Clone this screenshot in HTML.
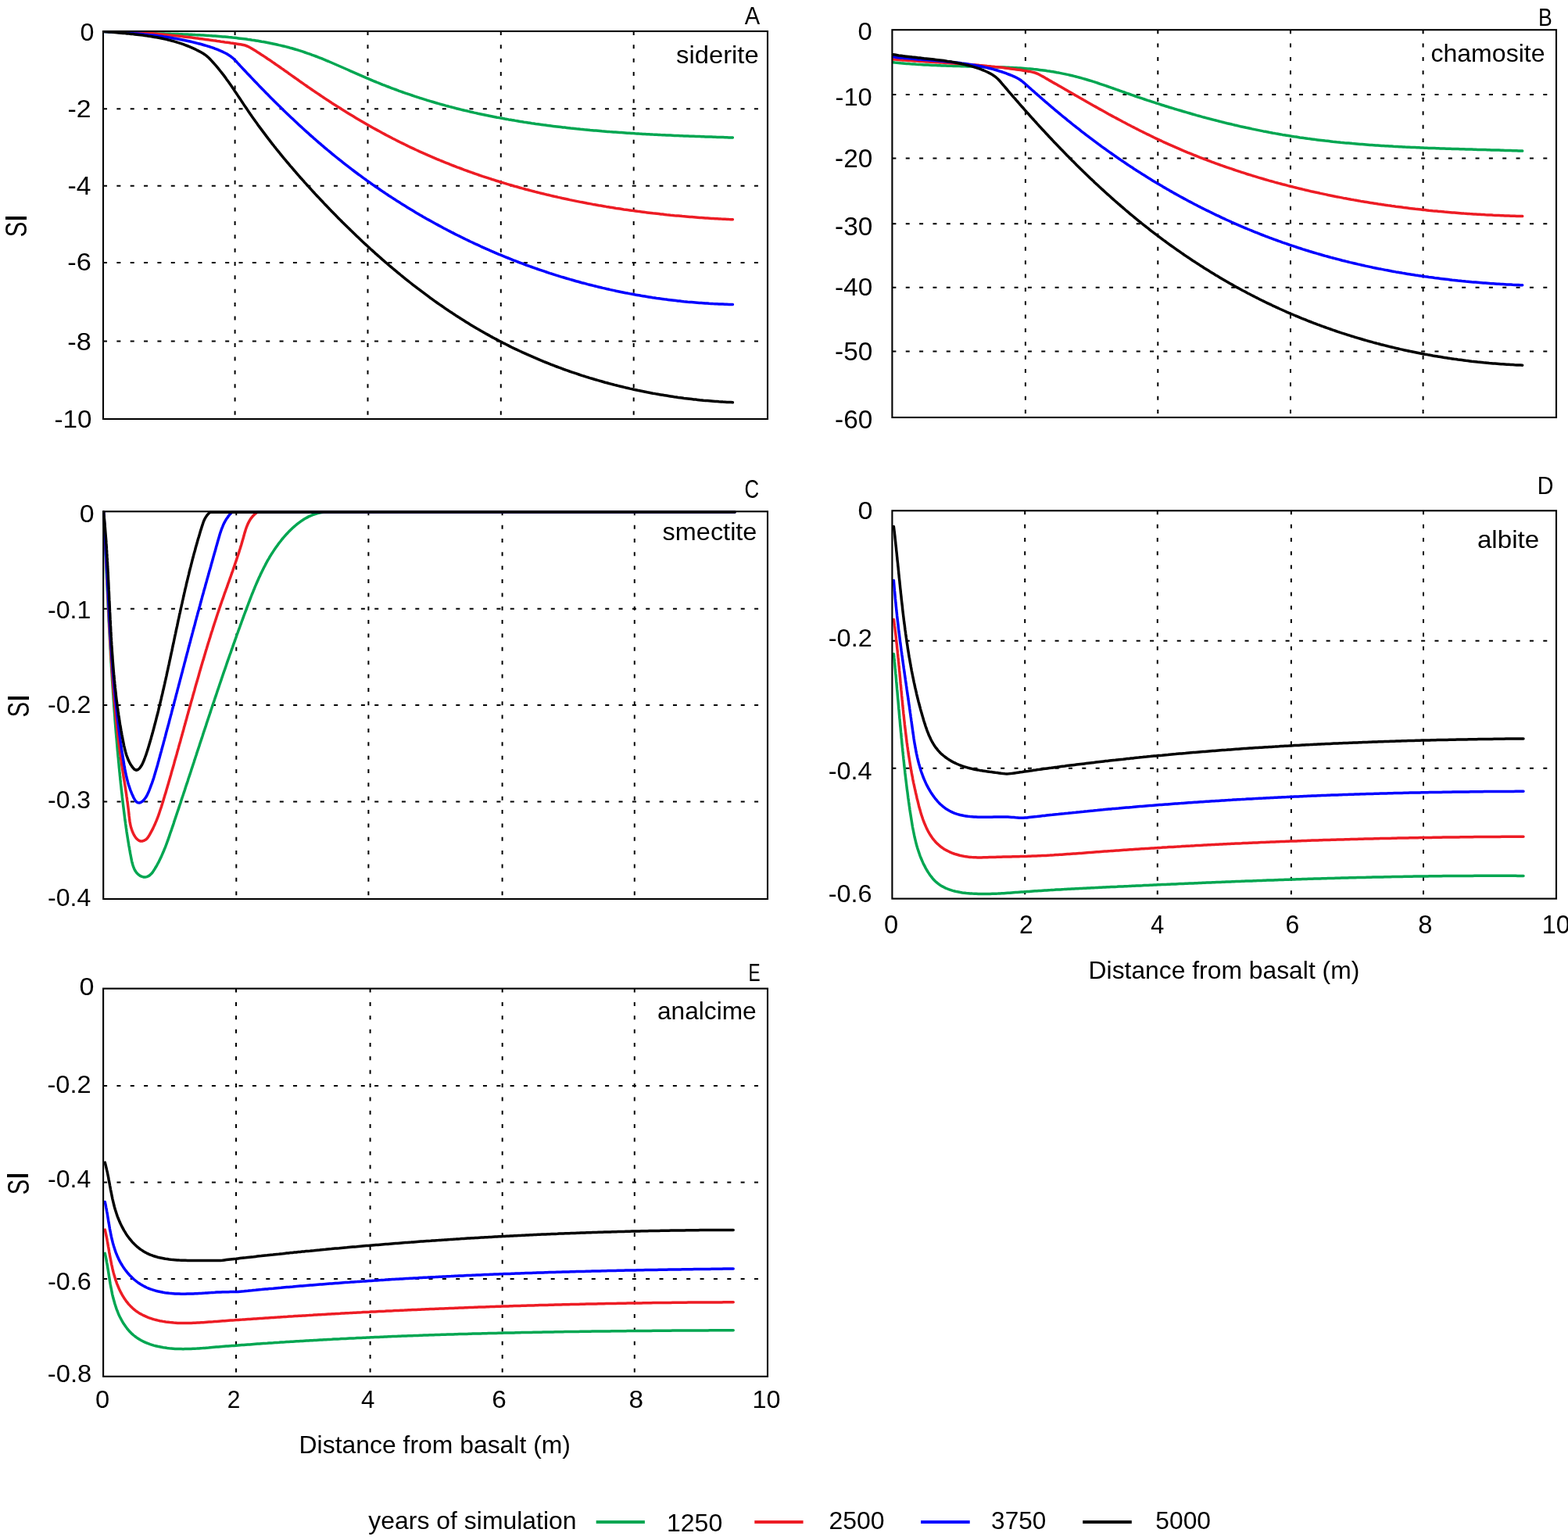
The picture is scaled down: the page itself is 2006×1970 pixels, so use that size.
<!DOCTYPE html>
<html lang="en">
<head>
<meta charset="utf-8">
<title>Saturation index profiles</title>
<style>
html,body{margin:0;padding:0;background:#fff;}
body{width:2006px;height:1970px;overflow:hidden;}
svg{display:block;}
text{font-family:"Liberation Sans",Arial,Helvetica,sans-serif;font-size:32px;fill:#000;}
.g{stroke:#000;stroke-width:2;stroke-dasharray:5 12.352;fill:none;}
.b{stroke:#000;stroke-width:2.1;fill:none;}
.c{stroke-width:3.5;fill:none;stroke-linecap:round;stroke-linejoin:round;}
.l{stroke-width:3.9;fill:none;}
</style>
</head>
<body>
<svg xmlns="http://www.w3.org/2000/svg" width="2006" height="1970" viewBox="0 0 2006 1970">
<rect x="0" y="0" width="2006" height="1970" fill="#fff"/>
<defs>
<clipPath id="clipA"><rect x="130.95" y="38.95" width="852.1" height="498.1"/></clipPath>
<clipPath id="clipB"><rect x="1140.35" y="37.15" width="851.7" height="497.9"/></clipPath>
<clipPath id="clipC"><rect x="131.15" y="653.25" width="851.9" height="497.8"/></clipPath>
<clipPath id="clipD"><rect x="1140.35" y="652.25" width="851.7" height="498.4"/></clipPath>
<clipPath id="clipE"><rect x="131.05" y="1263.55" width="852" height="498.3"/></clipPath>
</defs>
<g id="panel-A">
<line class="g" x1="300.6" y1="40" x2="300.6" y2="536"/>
<line class="g" x1="470.5" y1="40" x2="470.5" y2="536"/>
<line class="g" x1="640.8" y1="40" x2="640.8" y2="536"/>
<line class="g" x1="810.7" y1="40" x2="810.7" y2="536"/>
<line class="g" x1="132" y1="139.2" x2="982" y2="139.2"/>
<line class="g" x1="132" y1="237.7" x2="982" y2="237.7"/>
<line class="g" x1="132" y1="336" x2="982" y2="336"/>
<line class="g" x1="132" y1="436.5" x2="982" y2="436.5"/>
<g clip-path="url(#clipA)">
<polyline class="c" stroke="#00a651" points="132.3,40.3 134.8,40.4 137.2,40.6 139.7,40.7 142.2,40.8 144.6,41.0 147.1,41.1 149.6,41.2 152.1,41.3 154.5,41.4 157.0,41.5 159.5,41.6 162.0,41.7 164.5,41.8 167.0,41.9 169.5,42.0 172.0,42.0 174.5,42.1 177.0,42.2 179.5,42.3 182.0,42.3 184.5,42.4 187.0,42.5 189.5,42.5 192.0,42.6 194.5,42.7 197.1,42.8 199.6,42.8 202.1,42.9 204.6,43.0 207.1,43.0 209.6,43.1 212.1,43.2 214.7,43.2 217.2,43.3 219.7,43.4 222.2,43.5 224.7,43.6 227.3,43.6 229.8,43.7 232.3,43.8 234.8,43.9 237.3,44.0 239.9,44.1 242.4,44.2 244.9,44.3 247.4,44.4 249.9,44.6 252.5,44.7 255.0,44.8 257.5,45.0 260.0,45.1 262.5,45.2 265.0,45.4 267.5,45.6 270.1,45.7 272.6,45.9 275.1,46.1 277.6,46.3 280.1,46.5 282.6,46.7 285.1,46.9 287.6,47.1 290.1,47.3 292.6,47.6 295.1,47.8 297.6,48.1 300.1,48.3 302.6,48.6 305.0,48.9 307.5,49.2 310.0,49.5 312.5,49.8 315.0,50.1 317.4,50.5 319.9,50.8 322.4,51.2 324.9,51.5 327.3,51.9 329.8,52.3 332.2,52.7 334.7,53.2 337.1,53.6 339.6,54.0 342.0,54.5 344.5,55.0 346.9,55.5 349.3,56.0 351.8,56.5 354.2,57.0 356.6,57.6 359.0,58.1 361.4,58.7 363.8,59.3 366.3,59.9 368.7,60.5 371.0,61.2 373.4,61.8 375.8,62.5 378.2,63.2 380.6,63.9 383.0,64.7 385.3,65.4 387.7,66.2 390.0,67.0 392.4,67.8 394.7,68.6 397.1,69.4 399.4,70.3 401.8,71.1 404.1,72.0 406.4,72.9 408.7,73.8 411.1,74.7 413.4,75.7 415.7,76.6 418.0,77.6 420.3,78.5 422.6,79.5 424.9,80.5 427.2,81.5 429.5,82.5 431.8,83.5 434.1,84.5 436.4,85.5 438.7,86.5 441.0,87.5 443.3,88.5 445.6,89.5 447.9,90.6 450.2,91.6 452.5,92.6 454.8,93.6 457.1,94.6 459.4,95.7 461.7,96.7 464.0,97.7 466.3,98.7 468.6,99.7 471.0,100.6 473.3,101.6 475.6,102.6 477.9,103.6 480.2,104.5 482.6,105.5 484.9,106.4 487.2,107.3 489.5,108.3 491.9,109.2 494.2,110.1 496.6,111.0 498.9,111.9 501.2,112.8 503.6,113.7 505.9,114.5 508.3,115.4 510.6,116.3 513.0,117.1 515.4,118.0 517.7,118.8 520.1,119.6 522.5,120.4 524.8,121.2 527.2,122.0 529.6,122.8 531.9,123.6 534.3,124.4 536.7,125.2 539.1,125.9 541.5,126.7 543.8,127.4 546.2,128.2 548.6,128.9 551.0,129.6 553.4,130.3 555.8,131.0 558.2,131.7 560.6,132.4 563.0,133.1 565.4,133.8 567.8,134.4 570.2,135.1 572.6,135.7 575.1,136.4 577.5,137.0 579.9,137.6 582.3,138.3 584.7,138.9 587.1,139.5 589.6,140.1 592.0,140.7 594.4,141.3 596.9,141.8 599.3,142.4 601.7,143.0 604.1,143.5 606.6,144.1 609.0,144.6 611.5,145.2 613.9,145.7 616.3,146.2 618.8,146.7 621.2,147.2 623.7,147.7 626.1,148.2 628.6,148.7 631.0,149.2 633.5,149.7 635.9,150.2 638.4,150.6 640.8,151.1 643.3,151.5 645.8,152.0 648.2,152.4 650.7,152.9 653.2,153.3 655.6,153.7 658.1,154.1 660.6,154.6 663.0,155.0 665.5,155.4 668.0,155.8 670.4,156.2 672.9,156.5 675.4,156.9 677.9,157.3 680.3,157.7 682.8,158.0 685.3,158.4 687.8,158.7 690.2,159.1 692.7,159.4 695.2,159.8 697.7,160.1 700.2,160.4 702.7,160.7 705.2,161.1 707.6,161.4 710.1,161.7 712.6,162.0 715.1,162.3 717.6,162.6 720.1,162.9 722.6,163.1 725.1,163.4 727.6,163.7 730.1,164.0 732.5,164.2 735.0,164.5 737.5,164.8 740.0,165.0 742.5,165.3 745.0,165.5 747.5,165.8 750.0,166.0 752.5,166.2 755.0,166.5 757.5,166.7 760.0,166.9 762.5,167.1 765.0,167.3 767.5,167.5 770.0,167.8 772.5,168.0 775.0,168.2 777.5,168.4 780.0,168.6 782.5,168.7 785.0,168.9 787.5,169.1 790.1,169.3 792.6,169.5 795.1,169.6 797.6,169.8 800.1,170.0 802.6,170.2 805.1,170.3 807.6,170.5 810.1,170.6 812.6,170.8 815.1,170.9 817.6,171.1 820.1,171.2 822.6,171.4 825.1,171.5 827.6,171.7 830.1,171.8 832.6,171.9 835.1,172.1 837.6,172.2 840.1,172.3 842.6,172.4 845.1,172.6 847.6,172.7 850.1,172.8 852.6,172.9 855.1,173.0 857.7,173.1 860.2,173.2 862.7,173.4 865.2,173.5 867.7,173.6 870.2,173.7 872.7,173.8 875.1,173.9 877.6,174.0 880.1,174.1 882.6,174.2 885.1,174.3 887.6,174.3 890.1,174.4 892.6,174.5 895.1,174.6 897.6,174.7 900.1,174.8 902.6,174.9 905.1,175.0 907.6,175.1 910.1,175.1 912.6,175.2 915.0,175.3 917.5,175.4 920.0,175.5 922.5,175.5 925.0,175.6 927.5,175.7 930.0,175.8 932.4,175.9 934.9,175.9 937.4,176.0"/>
<polyline class="c" stroke="#ed1c24" points="132.3,40.3 134.8,40.3 137.3,40.3 139.9,40.3 142.4,40.3 144.9,40.4 147.4,40.4 149.9,40.4 152.5,40.5 155.0,40.6 157.5,40.7 160.0,40.7 162.5,40.8 165.0,40.9 167.5,41.1 170.1,41.2 172.6,41.3 175.1,41.4 177.6,41.6 180.1,41.8 182.6,41.9 185.1,42.1 187.6,42.3 190.2,42.5 192.7,42.6 195.2,42.8 197.7,43.1 200.2,43.3 202.7,43.5 205.2,43.7 207.7,43.9 210.2,44.2 212.7,44.4 215.2,44.7 217.7,44.9 220.2,45.2 222.7,45.5 225.2,45.8 227.7,46.0 230.2,46.3 232.7,46.6 235.2,46.9 237.7,47.2 240.2,47.5 242.7,47.8 245.2,48.1 247.7,48.4 250.2,48.8 252.7,49.1 255.2,49.4 257.7,49.7 260.2,50.1 262.7,50.4 265.2,50.7 267.7,51.1 270.2,51.4 272.7,51.8 275.2,52.1 277.7,52.5 280.2,52.8 282.7,53.2 285.2,53.5 287.7,53.9 290.2,54.2 292.6,54.6 295.1,55.0 297.6,55.3 300.1,55.7 302.6,56.1 305.1,56.4 307.6,56.8 310.0,57.2 312.5,57.7 314.8,58.5 317.1,59.4 319.3,60.5 321.5,61.7 323.6,63.0 325.7,64.3 327.8,65.6 329.9,67.0 332.0,68.3 334.1,69.7 336.2,71.0 338.3,72.4 340.4,73.8 342.4,75.2 344.5,76.5 346.6,77.9 348.6,79.4 350.7,80.8 352.7,82.2 354.8,83.6 356.8,85.0 358.9,86.5 360.9,87.9 363.0,89.3 365.0,90.8 367.1,92.2 369.1,93.7 371.1,95.1 373.2,96.6 375.2,98.0 377.3,99.5 379.3,100.9 381.3,102.3 383.4,103.8 385.4,105.2 387.5,106.7 389.5,108.1 391.6,109.5 393.6,111.0 395.7,112.4 397.7,113.8 399.8,115.2 401.9,116.6 403.9,118.0 406.0,119.4 408.1,120.8 410.2,122.2 412.3,123.6 414.3,125.0 416.4,126.4 418.5,127.8 420.6,129.1 422.7,130.5 424.8,131.9 426.9,133.2 429.0,134.6 431.1,135.9 433.3,137.3 435.4,138.6 437.5,139.9 439.6,141.3 441.7,142.6 443.9,143.9 446.0,145.2 448.1,146.5 450.3,147.8 452.4,149.1 454.6,150.4 456.7,151.7 458.9,153.0 461.0,154.2 463.2,155.5 465.4,156.8 467.5,158.0 469.7,159.3 471.9,160.5 474.0,161.7 476.2,163.0 478.4,164.2 480.6,165.4 482.8,166.6 485.0,167.8 487.2,169.0 489.4,170.2 491.6,171.4 493.8,172.6 496.0,173.7 498.2,174.9 500.4,176.0 502.6,177.2 504.8,178.3 507.1,179.5 509.3,180.6 511.5,181.7 513.8,182.8 516.0,183.9 518.3,185.0 520.5,186.1 522.7,187.2 525.0,188.3 527.3,189.4 529.5,190.4 531.8,191.5 534.1,192.5 536.3,193.6 538.6,194.6 540.9,195.6 543.2,196.6 545.4,197.6 547.7,198.6 550.0,199.6 552.3,200.6 554.6,201.6 556.9,202.6 559.2,203.6 561.5,204.5 563.8,205.5 566.1,206.4 568.4,207.4 570.8,208.3 573.1,209.2 575.4,210.2 577.7,211.1 580.1,212.0 582.4,212.9 584.7,213.8 587.1,214.6 589.4,215.5 591.7,216.4 594.1,217.3 596.4,218.1 598.8,219.0 601.1,219.8 603.5,220.7 605.8,221.5 608.2,222.3 610.6,223.1 612.9,224.0 615.3,224.8 617.7,225.6 620.0,226.3 622.4,227.1 624.8,227.9 627.2,228.7 629.6,229.5 631.9,230.2 634.3,231.0 636.7,231.7 639.1,232.5 641.5,233.2 643.9,233.9 646.3,234.6 648.7,235.4 651.1,236.1 653.5,236.8 655.9,237.5 658.3,238.2 660.7,238.8 663.1,239.5 665.5,240.2 668.0,240.9 670.4,241.5 672.8,242.2 675.2,242.8 677.6,243.5 680.1,244.1 682.5,244.7 684.9,245.4 687.3,246.0 689.8,246.6 692.2,247.2 694.6,247.8 697.1,248.4 699.5,249.0 702.0,249.5 704.4,250.1 706.8,250.7 709.3,251.3 711.7,251.8 714.2,252.4 716.6,252.9 719.1,253.5 721.5,254.0 724.0,254.5 726.4,255.0 728.9,255.6 731.4,256.1 733.8,256.6 736.3,257.1 738.7,257.6 741.2,258.1 743.7,258.6 746.1,259.0 748.6,259.5 751.1,260.0 753.5,260.4 756.0,260.9 758.5,261.4 760.9,261.8 763.4,262.2 765.9,262.7 768.4,263.1 770.8,263.5 773.3,263.9 775.8,264.4 778.3,264.8 780.7,265.2 783.2,265.6 785.7,266.0 788.2,266.4 790.6,266.7 793.1,267.1 795.6,267.5 798.1,267.9 800.6,268.2 803.1,268.6 805.5,268.9 808.0,269.3 810.5,269.6 813.0,269.9 815.5,270.3 818.0,270.6 820.5,270.9 823.0,271.2 825.4,271.6 827.9,271.9 830.4,272.2 832.9,272.5 835.4,272.8 837.9,273.0 840.4,273.3 842.9,273.6 845.4,273.9 847.8,274.1 850.3,274.4 852.8,274.7 855.3,274.9 857.8,275.2 860.3,275.4 862.8,275.7 865.3,275.9 867.8,276.1 870.3,276.3 872.8,276.6 875.2,276.8 877.7,277.0 880.2,277.2 882.7,277.4 885.2,277.6 887.7,277.8 890.2,278.0 892.7,278.2 895.2,278.4 897.6,278.5 900.1,278.7 902.6,278.9 905.1,279.0 907.6,279.2 910.1,279.4 912.6,279.5 915.1,279.7 917.5,279.8 920.0,279.9 922.5,280.1 925.0,280.2 927.5,280.3 930.0,280.4 932.4,280.6 934.9,280.7 937.4,280.8"/>
<polyline class="c" stroke="#0000ff" points="132.3,40.3 134.8,40.4 137.3,40.6 139.7,40.7 142.2,40.8 144.7,41.0 147.2,41.1 149.7,41.3 152.2,41.4 154.7,41.6 157.2,41.7 159.7,41.9 162.2,42.1 164.7,42.3 167.2,42.5 169.7,42.7 172.2,42.9 174.7,43.1 177.2,43.3 179.7,43.5 182.2,43.7 184.7,44.0 187.2,44.2 189.7,44.5 192.2,44.8 194.7,45.0 197.2,45.3 199.7,45.6 202.2,46.0 204.7,46.3 207.2,46.6 209.7,47.0 212.1,47.3 214.6,47.7 217.1,48.1 219.6,48.5 222.1,48.9 224.5,49.3 227.0,49.8 229.5,50.2 231.9,50.7 234.4,51.2 236.9,51.7 239.3,52.2 241.8,52.7 244.2,53.3 246.6,53.9 249.1,54.5 251.5,55.1 253.9,55.7 256.3,56.3 258.8,57.0 261.2,57.7 263.6,58.4 265.9,59.1 268.3,59.8 270.7,60.6 273.1,61.4 275.4,62.3 277.7,63.1 280.0,64.1 282.3,65.1 284.6,66.1 286.8,67.2 289.0,68.3 291.2,69.6 293.3,70.9 295.4,72.3 297.3,73.8 299.2,75.5 300.9,77.3 302.7,79.1 304.3,80.9 306.0,82.7 307.7,84.6 309.4,86.4 311.1,88.2 312.8,90.0 314.5,91.8 316.2,93.7 318.0,95.5 319.7,97.3 321.4,99.1 323.1,100.9 324.8,102.7 326.5,104.5 328.3,106.3 330.0,108.1 331.7,109.9 333.5,111.7 335.2,113.5 337.0,115.3 338.7,117.1 340.5,118.9 342.2,120.6 344.0,122.4 345.7,124.2 347.5,126.0 349.3,127.7 351.0,129.5 352.8,131.3 354.6,133.0 356.4,134.8 358.2,136.5 360.0,138.3 361.7,140.0 363.5,141.8 365.3,143.5 367.1,145.2 369.0,147.0 370.8,148.7 372.6,150.4 374.4,152.1 376.2,153.8 378.0,155.5 379.9,157.3 381.7,159.0 383.5,160.7 385.4,162.3 387.2,164.0 389.1,165.7 390.9,167.4 392.8,169.1 394.7,170.7 396.5,172.4 398.4,174.1 400.3,175.7 402.1,177.4 404.0,179.0 405.9,180.7 407.8,182.3 409.7,183.9 411.6,185.6 413.5,187.2 415.4,188.8 417.3,190.4 419.2,192.0 421.2,193.6 423.1,195.2 425.0,196.8 426.9,198.4 428.9,200.0 430.8,201.5 432.8,203.1 434.7,204.7 436.7,206.2 438.7,207.8 440.6,209.3 442.6,210.9 444.6,212.4 446.5,213.9 448.5,215.4 450.5,217.0 452.5,218.5 454.5,220.0 456.5,221.5 458.5,223.0 460.5,224.4 462.5,225.9 464.5,227.4 466.6,228.9 468.6,230.3 470.6,231.8 472.7,233.2 474.7,234.7 476.7,236.1 478.8,237.5 480.8,239.0 482.9,240.4 485.0,241.8 487.0,243.2 489.1,244.6 491.2,246.0 493.2,247.4 495.3,248.8 497.4,250.2 499.5,251.5 501.6,252.9 503.7,254.3 505.8,255.6 507.9,257.0 510.0,258.3 512.1,259.6 514.2,261.0 516.3,262.3 518.5,263.6 520.6,264.9 522.7,266.2 524.8,267.5 527.0,268.8 529.1,270.1 531.3,271.4 533.4,272.7 535.6,273.9 537.7,275.2 539.9,276.4 542.0,277.7 544.2,278.9 546.4,280.2 548.6,281.4 550.7,282.6 552.9,283.8 555.1,285.0 557.3,286.2 559.5,287.4 561.7,288.6 563.9,289.8 566.1,291.0 568.3,292.2 570.5,293.3 572.7,294.5 574.9,295.6 577.1,296.8 579.4,297.9 581.6,299.1 583.8,300.2 586.0,301.3 588.3,302.4 590.5,303.5 592.8,304.6 595.0,305.7 597.2,306.8 599.5,307.9 601.7,309.0 604.0,310.0 606.3,311.1 608.5,312.2 610.8,313.2 613.1,314.2 615.3,315.3 617.6,316.3 619.9,317.3 622.2,318.3 624.5,319.3 626.7,320.4 629.0,321.3 631.3,322.3 633.6,323.3 635.9,324.3 638.2,325.3 640.5,326.2 642.8,327.2 645.1,328.1 647.5,329.1 649.8,330.0 652.1,330.9 654.4,331.8 656.7,332.8 659.1,333.7 661.4,334.6 663.7,335.5 666.0,336.3 668.4,337.2 670.7,338.1 673.1,339.0 675.4,339.8 677.8,340.7 680.1,341.5 682.5,342.3 684.8,343.2 687.2,344.0 689.5,344.8 691.9,345.6 694.3,346.4 696.6,347.2 699.0,348.0 701.4,348.8 703.7,349.6 706.1,350.3 708.5,351.1 710.9,351.9 713.3,352.6 715.6,353.3 718.0,354.1 720.4,354.8 722.8,355.5 725.2,356.2 727.6,356.9 730.0,357.6 732.4,358.3 734.8,359.0 737.2,359.7 739.6,360.3 742.0,361.0 744.4,361.7 746.9,362.3 749.3,362.9 751.7,363.6 754.1,364.2 756.5,364.8 758.9,365.4 761.4,366.0 763.8,366.6 766.2,367.2 768.7,367.8 771.1,368.4 773.5,368.9 776.0,369.5 778.4,370.0 780.8,370.6 783.3,371.1 785.7,371.6 788.2,372.2 790.6,372.7 793.1,373.2 795.5,373.7 798.0,374.2 800.4,374.7 802.9,375.1 805.3,375.6 807.8,376.1 810.3,376.5 812.7,377.0 815.2,377.4 817.6,377.8 820.1,378.3 822.6,378.7 825.0,379.1 827.5,379.5 830.0,379.9 832.5,380.3 834.9,380.7 837.4,381.0 839.9,381.4 842.4,381.7 844.9,382.1 847.3,382.4 849.8,382.8 852.3,383.1 854.8,383.4 857.3,383.7 859.8,384.0 862.2,384.3 864.7,384.6 867.2,384.9 869.7,385.1 872.2,385.4 874.7,385.7 877.2,385.9 879.7,386.2 882.2,386.4 884.7,386.6 887.2,386.8 889.7,387.0 892.2,387.2 894.7,387.4 897.2,387.6 899.7,387.8 902.2,388.0 904.7,388.1 907.2,388.3 909.7,388.4 912.3,388.6 914.8,388.7 917.3,388.8 919.8,388.9 922.3,389.0 924.8,389.1 927.3,389.2 929.8,389.3 932.4,389.4 934.9,389.4 937.4,389.5"/>
<polyline class="c" stroke="#000000" points="132.3,40.3 134.8,40.5 137.3,40.7 139.8,40.9 142.3,41.1 144.8,41.3 147.3,41.5 149.8,41.7 152.3,42.0 154.8,42.2 157.4,42.4 159.9,42.6 162.4,42.9 165.0,43.1 167.5,43.4 170.0,43.6 172.6,43.9 175.1,44.2 177.6,44.5 180.2,44.8 182.7,45.1 185.2,45.4 187.7,45.8 190.3,46.2 192.8,46.6 195.3,47.0 197.8,47.4 200.3,47.8 202.8,48.3 205.3,48.8 207.8,49.3 210.3,49.9 212.7,50.4 215.2,51.0 217.6,51.6 220.1,52.3 222.5,52.9 224.9,53.6 227.4,54.4 229.8,55.1 232.2,55.9 234.5,56.7 236.9,57.6 239.3,58.5 241.6,59.4 243.9,60.4 246.2,61.4 248.5,62.4 250.8,63.5 253.0,64.7 255.3,65.8 257.5,67.0 259.7,68.3 261.8,69.7 263.8,71.2 265.8,72.8 267.6,74.5 269.3,76.3 271.0,78.1 272.7,80.0 274.4,81.9 276.0,83.7 277.7,85.7 279.3,87.6 280.8,89.5 282.4,91.5 283.9,93.4 285.5,95.4 287.0,97.4 288.5,99.4 289.9,101.5 291.4,103.5 292.9,105.5 294.3,107.6 295.7,109.6 297.2,111.7 298.6,113.8 300.0,115.9 301.4,117.9 302.8,120.0 304.2,122.1 305.6,124.2 307.0,126.3 308.4,128.4 309.8,130.5 311.2,132.6 312.6,134.7 314.0,136.7 315.4,138.8 316.8,140.9 318.2,143.0 319.6,145.0 321.0,147.1 322.5,149.2 323.9,151.2 325.4,153.3 326.8,155.3 328.3,157.3 329.8,159.4 331.2,161.4 332.7,163.4 334.2,165.4 335.7,167.4 337.2,169.4 338.7,171.4 340.2,173.4 341.7,175.4 343.2,177.4 344.8,179.4 346.3,181.4 347.8,183.3 349.4,185.3 350.9,187.3 352.5,189.2 354.0,191.2 355.6,193.1 357.2,195.0 358.7,197.0 360.3,198.9 361.9,200.9 363.5,202.8 365.1,204.7 366.7,206.6 368.3,208.5 369.9,210.4 371.5,212.3 373.2,214.2 374.8,216.1 376.4,218.0 378.1,219.9 379.7,221.8 381.3,223.7 383.0,225.6 384.6,227.5 386.3,229.3 388.0,231.2 389.6,233.1 391.3,234.9 393.0,236.8 394.7,238.6 396.4,240.5 398.0,242.3 399.7,244.2 401.4,246.0 403.1,247.9 404.8,249.7 406.5,251.5 408.3,253.4 410.0,255.2 411.7,257.0 413.4,258.8 415.1,260.7 416.9,262.5 418.6,264.3 420.3,266.1 422.1,267.9 423.8,269.7 425.6,271.5 427.3,273.3 429.1,275.1 430.9,276.9 432.6,278.7 434.4,280.5 436.2,282.2 437.9,284.0 439.7,285.8 441.5,287.6 443.3,289.3 445.1,291.1 446.9,292.8 448.7,294.6 450.5,296.3 452.3,298.1 454.1,299.8 455.9,301.6 457.8,303.3 459.6,305.0 461.4,306.8 463.2,308.5 465.1,310.2 466.9,311.9 468.8,313.6 470.6,315.3 472.5,317.0 474.3,318.7 476.2,320.4 478.1,322.1 479.9,323.8 481.8,325.4 483.7,327.1 485.6,328.8 487.4,330.4 489.3,332.1 491.2,333.7 493.1,335.4 495.0,337.0 496.9,338.6 498.8,340.3 500.8,341.9 502.7,343.5 504.6,345.1 506.5,346.7 508.5,348.3 510.4,349.9 512.3,351.5 514.3,353.1 516.2,354.7 518.2,356.3 520.1,357.8 522.1,359.4 524.1,361.0 526.0,362.5 528.0,364.1 530.0,365.6 532.0,367.1 534.0,368.7 536.0,370.2 538.0,371.7 540.0,373.2 542.0,374.7 544.0,376.2 546.0,377.7 548.0,379.2 550.0,380.7 552.0,382.1 554.1,383.6 556.1,385.1 558.1,386.5 560.2,388.0 562.2,389.4 564.3,390.8 566.4,392.2 568.4,393.7 570.5,395.1 572.6,396.5 574.6,397.9 576.7,399.3 578.8,400.6 580.9,402.0 583.0,403.4 585.1,404.7 587.2,406.1 589.3,407.4 591.4,408.8 593.5,410.1 595.6,411.4 597.8,412.8 599.9,414.1 602.0,415.4 604.2,416.7 606.3,417.9 608.4,419.2 610.6,420.5 612.8,421.7 614.9,423.0 617.1,424.2 619.3,425.5 621.4,426.7 623.6,427.9 625.8,429.1 628.0,430.4 630.2,431.6 632.4,432.7 634.6,433.9 636.8,435.1 639.0,436.3 641.2,437.4 643.4,438.6 645.7,439.7 647.9,440.8 650.1,441.9 652.4,443.1 654.6,444.2 656.9,445.3 659.1,446.3 661.4,447.4 663.7,448.5 665.9,449.5 668.2,450.6 670.5,451.6 672.8,452.7 675.0,453.7 677.3,454.7 679.6,455.7 681.9,456.7 684.2,457.7 686.5,458.7 688.8,459.7 691.1,460.7 693.5,461.6 695.8,462.6 698.1,463.5 700.4,464.4 702.8,465.4 705.1,466.3 707.4,467.2 709.8,468.1 712.1,469.0 714.5,469.9 716.8,470.7 719.2,471.6 721.5,472.5 723.9,473.3 726.3,474.1 728.6,475.0 731.0,475.8 733.4,476.6 735.8,477.4 738.1,478.2 740.5,479.0 742.9,479.8 745.3,480.6 747.7,481.3 750.1,482.1 752.5,482.8 754.9,483.6 757.3,484.3 759.7,485.0 762.1,485.7 764.5,486.4 766.9,487.1 769.4,487.8 771.8,488.5 774.2,489.2 776.6,489.8 779.0,490.5 781.5,491.1 783.9,491.7 786.3,492.4 788.8,493.0 791.2,493.6 793.7,494.2 796.1,494.8 798.5,495.4 801.0,496.0 803.4,496.5 805.9,497.1 808.3,497.6 810.8,498.2 813.2,498.7 815.7,499.3 818.2,499.8 820.6,500.3 823.1,500.8 825.5,501.3 828.0,501.8 830.5,502.2 832.9,502.7 835.4,503.2 837.9,503.6 840.4,504.1 842.8,504.5 845.3,504.9 847.8,505.3 850.3,505.7 852.7,506.1 855.2,506.5 857.7,506.9 860.2,507.3 862.7,507.7 865.2,508.0 867.6,508.4 870.1,508.7 872.6,509.0 875.1,509.4 877.6,509.7 880.1,510.0 882.6,510.3 885.0,510.6 887.5,510.9 890.0,511.1 892.5,511.4 895.0,511.7 897.5,511.9 900.0,512.2 902.5,512.4 905.0,512.6 907.5,512.8 910.0,513.0 912.5,513.2 915.0,513.4 917.4,513.6 919.9,513.8 922.4,513.9 924.9,514.1 927.4,514.2 929.9,514.4 932.4,514.5 934.9,514.6 937.4,514.8"/>
</g>
<rect class="b" x="132" y="40" width="850" height="496"/>
</g>
<g id="panel-B">
<line class="g" x1="1311.9" y1="38.2" x2="1311.9" y2="534"/>
<line class="g" x1="1481.3" y1="38.2" x2="1481.3" y2="534"/>
<line class="g" x1="1651" y1="38.2" x2="1651" y2="534"/>
<line class="g" x1="1820.6" y1="38.2" x2="1820.6" y2="534"/>
<line class="g" x1="1141.4" y1="120.9" x2="1991" y2="120.9"/>
<line class="g" x1="1141.4" y1="202.6" x2="1991" y2="202.6"/>
<line class="g" x1="1141.4" y1="286.2" x2="1991" y2="286.2"/>
<line class="g" x1="1141.4" y1="367.8" x2="1991" y2="367.8"/>
<line class="g" x1="1141.4" y1="449.5" x2="1991" y2="449.5"/>
<g clip-path="url(#clipB)">
<polyline class="c" stroke="#00a651" points="1142.4,79.8 1144.9,80.1 1147.3,80.3 1149.8,80.5 1152.3,80.8 1154.8,81.0 1157.3,81.2 1159.8,81.4 1162.3,81.6 1164.8,81.8 1167.3,81.9 1169.7,82.1 1172.2,82.3 1174.7,82.4 1177.2,82.6 1179.7,82.7 1182.2,82.9 1184.7,83.0 1187.2,83.1 1189.7,83.2 1192.2,83.4 1194.7,83.5 1197.2,83.6 1199.7,83.7 1202.2,83.8 1204.7,83.9 1207.2,84.0 1209.7,84.1 1212.2,84.2 1214.7,84.2 1217.2,84.3 1219.7,84.4 1222.2,84.5 1224.7,84.6 1227.2,84.6 1229.7,84.7 1232.2,84.8 1234.7,84.8 1237.2,84.9 1239.7,84.9 1242.2,85.0 1244.7,85.1 1247.3,85.1 1249.8,85.2 1252.3,85.2 1254.8,85.3 1257.3,85.4 1259.8,85.4 1262.3,85.5 1264.8,85.5 1267.4,85.6 1269.9,85.7 1272.4,85.7 1274.9,85.8 1277.4,85.9 1279.9,86.0 1282.4,86.0 1285.0,86.1 1287.5,86.2 1290.0,86.3 1292.5,86.5 1295.0,86.6 1297.5,86.7 1300.0,86.8 1302.5,87.0 1305.0,87.1 1307.5,87.3 1310.0,87.5 1312.5,87.7 1315.0,87.9 1317.5,88.1 1320.0,88.3 1322.5,88.6 1325.0,88.8 1327.5,89.1 1329.9,89.4 1332.4,89.7 1334.9,90.0 1337.4,90.3 1339.8,90.7 1342.3,91.0 1344.7,91.4 1347.2,91.8 1349.7,92.2 1352.1,92.7 1354.6,93.1 1357.0,93.6 1359.4,94.1 1361.9,94.6 1364.3,95.1 1366.7,95.6 1369.2,96.2 1371.6,96.8 1374.0,97.4 1376.4,98.0 1378.8,98.6 1381.2,99.2 1383.6,99.9 1386.0,100.6 1388.4,101.3 1390.8,102.0 1393.2,102.7 1395.6,103.4 1398.0,104.2 1400.3,104.9 1402.7,105.7 1405.1,106.5 1407.4,107.3 1409.8,108.1 1412.2,108.9 1414.5,109.7 1416.9,110.5 1419.3,111.3 1421.6,112.2 1424.0,113.0 1426.4,113.8 1428.7,114.7 1431.1,115.5 1433.4,116.3 1435.8,117.2 1438.2,118.0 1440.5,118.9 1442.9,119.7 1445.3,120.5 1447.6,121.3 1450.0,122.1 1452.4,123.0 1454.7,123.8 1457.1,124.6 1459.5,125.4 1461.8,126.2 1464.2,127.0 1466.6,127.8 1469.0,128.6 1471.4,129.3 1473.7,130.1 1476.1,130.9 1478.5,131.7 1480.9,132.4 1483.3,133.2 1485.6,134.0 1488.0,134.7 1490.4,135.5 1492.8,136.2 1495.2,137.0 1497.6,137.7 1500.0,138.4 1502.4,139.2 1504.8,139.9 1507.2,140.6 1509.6,141.3 1512.0,142.0 1514.4,142.7 1516.8,143.4 1519.2,144.1 1521.6,144.8 1524.0,145.5 1526.4,146.2 1528.8,146.9 1531.2,147.6 1533.6,148.2 1536.0,148.9 1538.4,149.6 1540.9,150.2 1543.3,150.9 1545.7,151.5 1548.1,152.1 1550.5,152.8 1552.9,153.4 1555.4,154.0 1557.8,154.6 1560.2,155.3 1562.6,155.9 1565.1,156.5 1567.5,157.1 1569.9,157.7 1572.3,158.2 1574.8,158.8 1577.2,159.4 1579.6,160.0 1582.1,160.5 1584.5,161.1 1586.9,161.7 1589.4,162.2 1591.8,162.7 1594.3,163.3 1596.7,163.8 1599.1,164.3 1601.6,164.9 1604.0,165.4 1606.5,165.9 1608.9,166.4 1611.4,166.9 1613.8,167.4 1616.3,167.9 1618.7,168.3 1621.2,168.8 1623.6,169.3 1626.1,169.7 1628.5,170.2 1631.0,170.6 1633.5,171.1 1635.9,171.5 1638.4,171.9 1640.8,172.4 1643.3,172.8 1645.8,173.2 1648.2,173.6 1650.7,174.0 1653.2,174.4 1655.6,174.8 1658.1,175.1 1660.6,175.5 1663.0,175.9 1665.5,176.2 1668.0,176.6 1670.5,176.9 1672.9,177.3 1675.4,177.6 1677.9,177.9 1680.4,178.2 1682.9,178.6 1685.3,178.9 1687.8,179.2 1690.3,179.5 1692.8,179.8 1695.3,180.1 1697.8,180.3 1700.2,180.6 1702.7,180.9 1705.2,181.2 1707.7,181.4 1710.2,181.7 1712.7,181.9 1715.2,182.2 1717.7,182.4 1720.2,182.7 1722.7,182.9 1725.2,183.1 1727.7,183.3 1730.1,183.6 1732.6,183.8 1735.1,184.0 1737.6,184.2 1740.1,184.4 1742.6,184.6 1745.1,184.8 1747.6,185.0 1750.1,185.2 1752.6,185.4 1755.1,185.5 1757.6,185.7 1760.1,185.9 1762.6,186.0 1765.1,186.2 1767.6,186.4 1770.1,186.5 1772.6,186.7 1775.2,186.8 1777.7,187.0 1780.2,187.1 1782.7,187.3 1785.2,187.4 1787.7,187.5 1790.2,187.7 1792.7,187.8 1795.2,187.9 1797.7,188.1 1800.2,188.2 1802.7,188.3 1805.2,188.4 1807.7,188.5 1810.2,188.6 1812.7,188.7 1815.2,188.8 1817.8,189.0 1820.3,189.1 1822.8,189.2 1825.3,189.3 1827.8,189.4 1830.3,189.4 1832.8,189.5 1835.3,189.6 1837.8,189.7 1840.3,189.8 1842.8,189.9 1845.3,190.0 1847.8,190.1 1850.3,190.2 1852.8,190.2 1855.3,190.3 1857.8,190.4 1860.4,190.5 1862.9,190.5 1865.4,190.6 1867.9,190.7 1870.4,190.8 1872.9,190.8 1875.4,190.9 1877.9,191.0 1880.4,191.1 1882.9,191.1 1885.4,191.2 1887.9,191.3 1890.4,191.4 1892.9,191.4 1895.4,191.5 1897.9,191.6 1900.4,191.6 1902.9,191.7 1905.4,191.8 1907.9,191.9 1910.4,191.9 1912.9,192.0 1915.3,192.1 1917.8,192.1 1920.3,192.2 1922.8,192.3 1925.3,192.4 1927.8,192.4 1930.3,192.5 1932.8,192.6 1935.3,192.7 1937.8,192.8 1940.2,192.8 1942.7,192.9 1945.2,193.0 1947.7,193.1"/>
<polyline class="c" stroke="#ed1c24" points="1142.4,75.9 1144.9,76.1 1147.4,76.3 1149.9,76.5 1152.4,76.7 1154.9,76.9 1157.4,77.1 1160.0,77.2 1162.5,77.4 1165.0,77.6 1167.5,77.8 1170.0,77.9 1172.5,78.1 1175.0,78.2 1177.6,78.4 1180.1,78.6 1182.6,78.7 1185.1,78.9 1187.6,79.0 1190.1,79.2 1192.6,79.4 1195.2,79.5 1197.7,79.7 1200.2,79.8 1202.7,80.0 1205.2,80.1 1207.7,80.3 1210.3,80.4 1212.8,80.6 1215.3,80.8 1217.8,80.9 1220.3,81.1 1222.8,81.3 1225.4,81.4 1227.9,81.6 1230.4,81.8 1232.9,82.0 1235.4,82.2 1237.9,82.3 1240.4,82.5 1243.0,82.7 1245.5,82.9 1248.0,83.1 1250.5,83.3 1253.0,83.6 1255.5,83.8 1258.0,84.0 1260.5,84.2 1263.0,84.5 1265.5,84.7 1268.0,85.0 1270.5,85.2 1273.1,85.5 1275.6,85.7 1278.1,86.0 1280.6,86.3 1283.1,86.6 1285.6,86.9 1288.1,87.2 1290.6,87.5 1293.1,87.9 1295.5,88.2 1298.0,88.5 1300.5,88.9 1303.0,89.2 1305.5,89.6 1308.0,90.0 1310.5,90.4 1313.0,90.8 1315.5,91.2 1318.0,91.6 1320.4,92.1 1322.8,92.7 1325.2,93.5 1327.5,94.4 1329.7,95.5 1331.9,96.7 1334.1,97.9 1336.2,99.1 1338.4,100.4 1340.6,101.6 1342.7,102.9 1344.9,104.1 1347.0,105.4 1349.2,106.6 1351.4,107.8 1353.5,109.1 1355.7,110.3 1357.9,111.6 1360.0,112.8 1362.2,114.1 1364.4,115.3 1366.5,116.6 1368.7,117.8 1370.9,119.1 1373.0,120.3 1375.2,121.6 1377.4,122.8 1379.6,124.1 1381.7,125.3 1383.9,126.5 1386.1,127.8 1388.3,129.0 1390.4,130.3 1392.6,131.5 1394.8,132.7 1397.0,134.0 1399.1,135.2 1401.3,136.4 1403.5,137.6 1405.7,138.9 1407.9,140.1 1410.1,141.3 1412.3,142.5 1414.5,143.7 1416.6,144.9 1418.8,146.2 1421.0,147.4 1423.2,148.6 1425.4,149.8 1427.6,150.9 1429.8,152.1 1432.0,153.3 1434.3,154.5 1436.5,155.7 1438.7,156.8 1440.9,158.0 1443.1,159.2 1445.3,160.3 1447.5,161.5 1449.8,162.6 1452.0,163.8 1454.2,164.9 1456.4,166.0 1458.7,167.2 1460.9,168.3 1463.1,169.4 1465.4,170.5 1467.6,171.6 1469.9,172.7 1472.1,173.8 1474.4,174.9 1476.6,176.0 1478.9,177.1 1481.1,178.1 1483.4,179.2 1485.7,180.2 1487.9,181.3 1490.2,182.3 1492.5,183.4 1494.7,184.4 1497.0,185.4 1499.3,186.4 1501.6,187.4 1503.9,188.4 1506.2,189.4 1508.5,190.4 1510.7,191.4 1513.0,192.4 1515.3,193.3 1517.7,194.3 1520.0,195.3 1522.3,196.2 1524.6,197.1 1526.9,198.1 1529.2,199.0 1531.5,199.9 1533.8,200.8 1536.2,201.8 1538.5,202.7 1540.8,203.6 1543.2,204.4 1545.5,205.3 1547.8,206.2 1550.2,207.1 1552.5,207.9 1554.9,208.8 1557.2,209.7 1559.6,210.5 1561.9,211.3 1564.3,212.2 1566.6,213.0 1569.0,213.8 1571.3,214.6 1573.7,215.4 1576.1,216.2 1578.4,217.0 1580.8,217.8 1583.2,218.6 1585.5,219.4 1587.9,220.2 1590.3,220.9 1592.7,221.7 1595.0,222.5 1597.4,223.2 1599.8,223.9 1602.2,224.7 1604.6,225.4 1607.0,226.1 1609.4,226.9 1611.8,227.6 1614.2,228.3 1616.6,229.0 1619.0,229.7 1621.4,230.4 1623.8,231.1 1626.2,231.7 1628.6,232.4 1631.0,233.1 1633.4,233.7 1635.8,234.4 1638.2,235.0 1640.7,235.7 1643.1,236.3 1645.5,236.9 1647.9,237.6 1650.4,238.2 1652.8,238.8 1655.2,239.4 1657.6,240.0 1660.1,240.6 1662.5,241.2 1664.9,241.8 1667.4,242.4 1669.8,243.0 1672.2,243.5 1674.7,244.1 1677.1,244.7 1679.6,245.2 1682.0,245.8 1684.4,246.3 1686.9,246.8 1689.3,247.4 1691.8,247.9 1694.2,248.4 1696.7,248.9 1699.1,249.5 1701.6,250.0 1704.1,250.5 1706.5,251.0 1709.0,251.5 1711.4,251.9 1713.9,252.4 1716.4,252.9 1718.8,253.4 1721.3,253.8 1723.7,254.3 1726.2,254.7 1728.7,255.2 1731.1,255.6 1733.6,256.1 1736.1,256.5 1738.6,256.9 1741.0,257.4 1743.5,257.8 1746.0,258.2 1748.4,258.6 1750.9,259.0 1753.4,259.4 1755.9,259.8 1758.4,260.2 1760.8,260.6 1763.3,261.0 1765.8,261.3 1768.3,261.7 1770.8,262.1 1773.2,262.4 1775.7,262.8 1778.2,263.1 1780.7,263.5 1783.2,263.8 1785.7,264.2 1788.1,264.5 1790.6,264.8 1793.1,265.1 1795.6,265.5 1798.1,265.8 1800.6,266.1 1803.1,266.4 1805.6,266.7 1808.1,267.0 1810.6,267.3 1813.0,267.5 1815.5,267.8 1818.0,268.1 1820.5,268.4 1823.0,268.6 1825.5,268.9 1828.0,269.2 1830.5,269.4 1833.0,269.7 1835.5,269.9 1838.0,270.1 1840.5,270.4 1843.0,270.6 1845.5,270.8 1848.0,271.1 1850.5,271.3 1852.9,271.5 1855.4,271.7 1857.9,271.9 1860.4,272.1 1862.9,272.3 1865.4,272.5 1867.9,272.7 1870.4,272.9 1872.9,273.1 1875.4,273.2 1877.9,273.4 1880.4,273.6 1882.9,273.7 1885.4,273.9 1887.9,274.0 1890.4,274.2 1892.9,274.3 1895.4,274.5 1897.9,274.6 1900.4,274.8 1902.9,274.9 1905.4,275.0 1907.9,275.1 1910.3,275.3 1912.8,275.4 1915.3,275.5 1917.8,275.6 1920.3,275.7 1922.8,275.8 1925.3,275.9 1927.8,276.0 1930.3,276.1 1932.8,276.2 1935.3,276.2 1937.7,276.3 1940.2,276.4 1942.7,276.5 1945.2,276.5 1947.7,276.6"/>
<polyline class="c" stroke="#0000ff" points="1142.4,72.8 1144.9,73.1 1147.3,73.4 1149.8,73.7 1152.3,73.9 1154.8,74.1 1157.3,74.4 1159.8,74.6 1162.3,74.8 1164.9,75.0 1167.4,75.3 1169.9,75.5 1172.4,75.7 1174.9,75.9 1177.4,76.1 1180.0,76.3 1182.5,76.4 1185.0,76.6 1187.5,76.8 1190.1,77.0 1192.6,77.2 1195.1,77.4 1197.7,77.6 1200.2,77.8 1202.7,78.1 1205.2,78.3 1207.8,78.5 1210.3,78.7 1212.8,79.0 1215.3,79.2 1217.9,79.5 1220.4,79.8 1222.9,80.0 1225.4,80.3 1227.9,80.6 1230.4,81.0 1232.9,81.3 1235.4,81.6 1237.9,82.0 1240.4,82.4 1242.9,82.8 1245.4,83.2 1247.9,83.6 1250.4,84.1 1252.9,84.5 1255.3,85.0 1257.8,85.5 1260.2,86.1 1262.7,86.6 1265.1,87.2 1267.6,87.8 1270.0,88.4 1272.4,89.1 1274.8,89.8 1277.2,90.5 1279.6,91.3 1282.0,92.0 1284.4,92.8 1286.8,93.7 1289.1,94.6 1291.5,95.5 1293.8,96.4 1296.1,97.4 1298.4,98.4 1300.7,99.5 1302.9,100.7 1305.0,102.0 1307.0,103.5 1309.0,105.1 1310.9,106.7 1312.7,108.3 1314.6,110.0 1316.5,111.7 1318.3,113.3 1320.2,115.0 1322.1,116.6 1323.9,118.3 1325.8,119.9 1327.7,121.6 1329.6,123.2 1331.5,124.9 1333.3,126.5 1335.2,128.1 1337.1,129.8 1339.0,131.4 1340.9,133.0 1342.8,134.6 1344.7,136.3 1346.6,137.9 1348.5,139.5 1350.4,141.1 1352.3,142.7 1354.3,144.3 1356.2,145.9 1358.1,147.5 1360.0,149.1 1362.0,150.6 1363.9,152.2 1365.8,153.8 1367.8,155.4 1369.7,156.9 1371.6,158.5 1373.6,160.1 1375.6,161.6 1377.5,163.2 1379.5,164.7 1381.4,166.2 1383.4,167.8 1385.4,169.3 1387.4,170.8 1389.3,172.4 1391.3,173.9 1393.3,175.4 1395.3,176.9 1397.3,178.4 1399.3,179.9 1401.3,181.4 1403.3,182.9 1405.3,184.4 1407.3,185.8 1409.3,187.3 1411.4,188.8 1413.4,190.2 1415.4,191.7 1417.4,193.1 1419.5,194.6 1421.5,196.0 1423.6,197.5 1425.6,198.9 1427.6,200.3 1429.7,201.8 1431.8,203.2 1433.8,204.6 1435.9,206.0 1438.0,207.4 1440.0,208.8 1442.1,210.2 1444.2,211.6 1446.3,213.0 1448.4,214.3 1450.4,215.7 1452.5,217.1 1454.6,218.4 1456.7,219.8 1458.9,221.1 1461.0,222.5 1463.1,223.8 1465.2,225.1 1467.3,226.4 1469.4,227.8 1471.6,229.1 1473.7,230.4 1475.8,231.7 1478.0,233.0 1480.1,234.3 1482.3,235.6 1484.4,236.8 1486.6,238.1 1488.7,239.4 1490.9,240.6 1493.1,241.9 1495.2,243.1 1497.4,244.4 1499.6,245.6 1501.8,246.9 1504.0,248.1 1506.1,249.3 1508.3,250.5 1510.5,251.7 1512.7,252.9 1514.9,254.1 1517.1,255.3 1519.3,256.5 1521.5,257.7 1523.8,258.8 1526.0,260.0 1528.2,261.2 1530.4,262.3 1532.6,263.5 1534.9,264.6 1537.1,265.7 1539.3,266.9 1541.6,268.0 1543.8,269.1 1546.1,270.2 1548.3,271.3 1550.6,272.4 1552.8,273.5 1555.1,274.6 1557.3,275.7 1559.6,276.7 1561.9,277.8 1564.1,278.9 1566.4,279.9 1568.7,281.0 1571.0,282.0 1573.3,283.0 1575.5,284.1 1577.8,285.1 1580.1,286.1 1582.4,287.1 1584.7,288.1 1587.0,289.1 1589.3,290.1 1591.6,291.1 1593.9,292.0 1596.2,293.0 1598.6,294.0 1600.9,294.9 1603.2,295.9 1605.5,296.8 1607.8,297.7 1610.2,298.7 1612.5,299.6 1614.8,300.5 1617.2,301.4 1619.5,302.3 1621.8,303.2 1624.2,304.1 1626.5,304.9 1628.9,305.8 1631.2,306.7 1633.6,307.5 1635.9,308.4 1638.3,309.2 1640.6,310.1 1643.0,310.9 1645.4,311.7 1647.7,312.5 1650.1,313.3 1652.5,314.1 1654.9,314.9 1657.2,315.7 1659.6,316.5 1662.0,317.3 1664.4,318.0 1666.8,318.8 1669.1,319.5 1671.5,320.3 1673.9,321.0 1676.3,321.8 1678.7,322.5 1681.1,323.2 1683.5,323.9 1685.9,324.6 1688.3,325.3 1690.7,326.0 1693.1,326.7 1695.5,327.4 1698.0,328.0 1700.4,328.7 1702.8,329.4 1705.2,330.0 1707.6,330.6 1710.0,331.3 1712.5,331.9 1714.9,332.5 1717.3,333.2 1719.8,333.8 1722.2,334.4 1724.6,335.0 1727.1,335.6 1729.5,336.1 1731.9,336.7 1734.4,337.3 1736.8,337.9 1739.2,338.4 1741.7,339.0 1744.1,339.5 1746.6,340.1 1749.0,340.6 1751.5,341.1 1753.9,341.6 1756.4,342.2 1758.8,342.7 1761.3,343.2 1763.7,343.7 1766.2,344.1 1768.7,344.6 1771.1,345.1 1773.6,345.6 1776.0,346.0 1778.5,346.5 1781.0,347.0 1783.4,347.4 1785.9,347.9 1788.4,348.3 1790.8,348.7 1793.3,349.1 1795.8,349.6 1798.3,350.0 1800.7,350.4 1803.2,350.8 1805.7,351.2 1808.2,351.6 1810.6,352.0 1813.1,352.3 1815.6,352.7 1818.1,353.1 1820.6,353.4 1823.0,353.8 1825.5,354.1 1828.0,354.5 1830.5,354.8 1833.0,355.1 1835.5,355.5 1837.9,355.8 1840.4,356.1 1842.9,356.4 1845.4,356.7 1847.9,357.0 1850.4,357.3 1852.9,357.6 1855.4,357.9 1857.9,358.2 1860.4,358.4 1862.8,358.7 1865.3,359.0 1867.8,359.2 1870.3,359.5 1872.8,359.7 1875.3,360.0 1877.8,360.2 1880.3,360.4 1882.8,360.7 1885.3,360.9 1887.8,361.1 1890.3,361.3 1892.8,361.5 1895.3,361.7 1897.8,361.9 1900.3,362.1 1902.8,362.3 1905.3,362.5 1907.8,362.7 1910.3,362.8 1912.8,363.0 1915.3,363.2 1917.7,363.3 1920.2,363.5 1922.7,363.6 1925.2,363.7 1927.7,363.9 1930.2,364.0 1932.7,364.1 1935.2,364.3 1937.7,364.4 1940.2,364.5 1942.7,364.6 1945.2,364.7 1947.7,364.8"/>
<polyline class="c" stroke="#000000" points="1142.4,69.8 1144.8,70.1 1147.3,70.5 1149.7,70.9 1152.2,71.2 1154.7,71.6 1157.2,71.9 1159.6,72.2 1162.1,72.5 1164.6,72.8 1167.1,73.1 1169.6,73.3 1172.1,73.6 1174.6,73.9 1177.1,74.1 1179.7,74.4 1182.2,74.7 1184.7,74.9 1187.2,75.2 1189.7,75.5 1192.2,75.8 1194.7,76.1 1197.3,76.4 1199.8,76.7 1202.3,77.0 1204.8,77.3 1207.3,77.6 1209.8,78.0 1212.3,78.4 1214.8,78.7 1217.3,79.1 1219.7,79.6 1222.2,80.0 1224.7,80.5 1227.1,81.0 1229.6,81.5 1232.0,82.0 1234.5,82.6 1236.9,83.2 1239.3,83.8 1241.7,84.4 1244.2,85.1 1246.5,85.8 1248.9,86.6 1251.3,87.4 1253.6,88.2 1256.0,89.1 1258.3,90.0 1260.6,91.0 1262.8,92.0 1265.1,93.1 1267.3,94.3 1269.5,95.6 1271.6,96.9 1273.6,98.4 1275.5,100.0 1277.3,101.7 1279.0,103.5 1280.6,105.4 1282.2,107.3 1283.8,109.2 1285.5,111.1 1287.1,113.0 1288.7,114.9 1290.3,116.8 1291.9,118.7 1293.6,120.6 1295.2,122.5 1296.8,124.3 1298.5,126.2 1300.1,128.1 1301.8,130.0 1303.4,131.9 1305.1,133.8 1306.7,135.7 1308.4,137.5 1310.0,139.4 1311.7,141.3 1313.3,143.2 1315.0,145.0 1316.7,146.9 1318.3,148.8 1320.0,150.6 1321.7,152.5 1323.4,154.4 1325.1,156.2 1326.7,158.1 1328.4,159.9 1330.1,161.8 1331.8,163.6 1333.5,165.5 1335.2,167.3 1336.9,169.1 1338.6,171.0 1340.3,172.8 1342.1,174.7 1343.8,176.5 1345.5,178.3 1347.2,180.1 1348.9,182.0 1350.7,183.8 1352.4,185.6 1354.2,187.4 1355.9,189.2 1357.6,191.0 1359.4,192.8 1361.1,194.6 1362.9,196.4 1364.6,198.2 1366.4,200.0 1368.2,201.8 1369.9,203.6 1371.7,205.4 1373.5,207.1 1375.3,208.9 1377.0,210.7 1378.8,212.4 1380.6,214.2 1382.4,216.0 1384.2,217.7 1386.0,219.5 1387.8,221.2 1389.6,223.0 1391.4,224.7 1393.2,226.4 1395.0,228.2 1396.9,229.9 1398.7,231.6 1400.5,233.4 1402.3,235.1 1404.2,236.8 1406.0,238.5 1407.9,240.2 1409.7,241.9 1411.6,243.6 1413.4,245.3 1415.3,247.0 1417.1,248.6 1419.0,250.3 1420.9,252.0 1422.7,253.7 1424.6,255.3 1426.5,257.0 1428.4,258.6 1430.3,260.3 1432.2,261.9 1434.1,263.6 1436.0,265.2 1437.9,266.8 1439.8,268.5 1441.7,270.1 1443.6,271.7 1445.5,273.3 1447.4,274.9 1449.4,276.5 1451.3,278.1 1453.2,279.7 1455.2,281.3 1457.1,282.9 1459.1,284.4 1461.0,286.0 1463.0,287.6 1465.0,289.1 1466.9,290.7 1468.9,292.2 1470.9,293.8 1472.8,295.3 1474.8,296.8 1476.8,298.3 1478.8,299.9 1480.8,301.4 1482.8,302.9 1484.8,304.4 1486.8,305.9 1488.8,307.4 1490.8,308.8 1492.9,310.3 1494.9,311.8 1496.9,313.3 1498.9,314.7 1501.0,316.2 1503.0,317.6 1505.1,319.1 1507.1,320.5 1509.2,321.9 1511.2,323.4 1513.3,324.8 1515.3,326.2 1517.4,327.6 1519.5,329.0 1521.6,330.4 1523.6,331.8 1525.7,333.2 1527.8,334.5 1529.9,335.9 1532.0,337.3 1534.1,338.6 1536.2,340.0 1538.3,341.3 1540.4,342.7 1542.5,344.0 1544.6,345.3 1546.8,346.6 1548.9,348.0 1551.0,349.3 1553.2,350.6 1555.3,351.9 1557.4,353.1 1559.6,354.4 1561.7,355.7 1563.9,357.0 1566.0,358.2 1568.2,359.5 1570.4,360.7 1572.5,362.0 1574.7,363.2 1576.9,364.4 1579.1,365.7 1581.2,366.9 1583.4,368.1 1585.6,369.3 1587.8,370.5 1590.0,371.7 1592.2,372.8 1594.4,374.0 1596.6,375.2 1598.8,376.3 1601.0,377.5 1603.3,378.6 1605.5,379.8 1607.7,380.9 1609.9,382.0 1612.2,383.2 1614.4,384.3 1616.7,385.4 1618.9,386.5 1621.2,387.6 1623.4,388.6 1625.7,389.7 1627.9,390.8 1630.2,391.8 1632.4,392.9 1634.7,393.9 1637.0,395.0 1639.3,396.0 1641.5,397.0 1643.8,398.0 1646.1,399.1 1648.4,400.1 1650.7,401.0 1653.0,402.0 1655.3,403.0 1657.6,404.0 1659.9,404.9 1662.2,405.9 1664.5,406.9 1666.9,407.8 1669.2,408.7 1671.5,409.7 1673.8,410.6 1676.2,411.5 1678.5,412.4 1680.8,413.3 1683.2,414.2 1685.5,415.1 1687.9,415.9 1690.2,416.8 1692.6,417.7 1694.9,418.5 1697.3,419.4 1699.6,420.2 1702.0,421.0 1704.4,421.9 1706.7,422.7 1709.1,423.5 1711.5,424.3 1713.9,425.1 1716.2,425.9 1718.6,426.6 1721.0,427.4 1723.4,428.2 1725.8,428.9 1728.2,429.7 1730.6,430.4 1733.0,431.2 1735.4,431.9 1737.8,432.6 1740.2,433.3 1742.6,434.0 1745.0,434.7 1747.4,435.4 1749.8,436.1 1752.2,436.8 1754.7,437.4 1757.1,438.1 1759.5,438.7 1761.9,439.4 1764.4,440.0 1766.8,440.7 1769.2,441.3 1771.6,441.9 1774.1,442.5 1776.5,443.1 1779.0,443.7 1781.4,444.3 1783.8,444.9 1786.3,445.5 1788.7,446.0 1791.2,446.6 1793.6,447.1 1796.1,447.7 1798.5,448.2 1801.0,448.7 1803.5,449.3 1805.9,449.8 1808.4,450.3 1810.8,450.8 1813.3,451.3 1815.8,451.8 1818.2,452.2 1820.7,452.7 1823.2,453.2 1825.6,453.6 1828.1,454.1 1830.6,454.5 1833.0,455.0 1835.5,455.4 1838.0,455.8 1840.5,456.2 1843.0,456.6 1845.4,457.0 1847.9,457.4 1850.4,457.8 1852.9,458.2 1855.4,458.6 1857.8,458.9 1860.3,459.3 1862.8,459.6 1865.3,460.0 1867.8,460.3 1870.3,460.6 1872.8,460.9 1875.3,461.3 1877.8,461.6 1880.3,461.9 1882.7,462.2 1885.2,462.4 1887.7,462.7 1890.2,463.0 1892.7,463.2 1895.2,463.5 1897.7,463.8 1900.2,464.0 1902.7,464.2 1905.2,464.5 1907.7,464.7 1910.2,464.9 1912.7,465.1 1915.2,465.3 1917.7,465.5 1920.2,465.7 1922.7,465.8 1925.2,466.0 1927.7,466.2 1930.2,466.3 1932.7,466.5 1935.2,466.6 1937.7,466.8 1940.2,466.9 1942.7,467.0 1945.2,467.1 1947.7,467.2"/>
</g>
<rect class="b" x="1141.4" y="38.2" width="849.6" height="495.8"/>
</g>
<g id="panel-C">
<line class="g" x1="302.3" y1="654.3" x2="302.3" y2="1150"/>
<line class="g" x1="471.4" y1="654.3" x2="471.4" y2="1150"/>
<line class="g" x1="642.6" y1="654.3" x2="642.6" y2="1150"/>
<line class="g" x1="811.8" y1="654.3" x2="811.8" y2="1150"/>
<line class="g" x1="132.2" y1="778.7" x2="982" y2="778.7"/>
<line class="g" x1="132.2" y1="902" x2="982" y2="902"/>
<line class="g" x1="132.2" y1="1025.5" x2="982" y2="1025.5"/>
<g clip-path="url(#clipC)">
<polyline class="c" stroke="#00a651" points="132.6,654.9 132.7,657.4 132.8,659.9 133.0,662.3 133.1,664.8 133.2,667.3 133.3,669.8 133.4,672.2 133.5,674.7 133.7,677.2 133.8,679.7 133.9,682.2 134.0,684.7 134.1,687.1 134.2,689.6 134.3,692.1 134.5,694.6 134.6,697.1 134.7,699.6 134.8,702.1 134.9,704.6 135.0,707.1 135.1,709.5 135.3,712.0 135.4,714.5 135.5,717.0 135.6,719.5 135.7,722.0 135.8,724.5 136.0,727.0 136.1,729.5 136.2,732.0 136.3,734.5 136.4,737.0 136.5,739.5 136.7,742.0 136.8,744.5 136.9,747.0 137.0,749.5 137.1,752.0 137.2,754.5 137.4,757.0 137.5,759.5 137.6,762.0 137.7,764.5 137.9,767.0 138.0,769.5 138.1,772.0 138.2,774.5 138.3,777.0 138.5,779.5 138.6,782.0 138.7,784.5 138.8,787.0 139.0,789.5 139.1,792.1 139.2,794.6 139.4,797.1 139.5,799.6 139.6,802.1 139.8,804.6 139.9,807.1 140.0,809.6 140.2,812.1 140.3,814.6 140.4,817.1 140.6,819.6 140.7,822.1 140.8,824.6 141.0,827.1 141.1,829.7 141.3,832.2 141.4,834.7 141.5,837.2 141.7,839.7 141.8,842.2 142.0,844.7 142.1,847.2 142.3,849.7 142.4,852.2 142.6,854.7 142.7,857.2 142.9,859.7 143.1,862.2 143.2,864.7 143.4,867.3 143.5,869.8 143.7,872.3 143.9,874.8 144.0,877.3 144.2,879.8 144.4,882.3 144.5,884.8 144.7,887.3 144.9,889.8 145.0,892.3 145.2,894.8 145.4,897.3 145.6,899.8 145.7,902.3 145.9,904.8 146.1,907.3 146.3,909.8 146.5,912.3 146.7,914.8 146.9,917.3 147.0,919.8 147.2,922.3 147.4,924.8 147.6,927.3 147.8,929.8 148.0,932.3 148.2,934.8 148.4,937.3 148.6,939.8 148.8,942.3 149.1,944.8 149.3,947.3 149.5,949.8 149.7,952.2 149.9,954.7 150.1,957.2 150.3,959.7 150.6,962.2 150.8,964.7 151.0,967.2 151.3,969.7 151.5,972.2 151.7,974.6 152.0,977.1 152.2,979.6 152.4,982.1 152.7,984.6 152.9,987.0 153.2,989.5 153.4,992.0 153.7,994.5 153.9,997.0 154.2,999.4 154.4,1001.9 154.7,1004.4 155.0,1006.9 155.2,1009.3 155.5,1011.8 155.8,1014.3 156.1,1016.8 156.3,1019.2 156.6,1021.7 156.9,1024.2 157.2,1026.6 157.5,1029.1 157.8,1031.6 158.1,1034.0 158.4,1036.5 158.7,1039.0 159.0,1041.4 159.3,1043.9 159.6,1046.4 159.9,1048.9 160.3,1051.3 160.6,1053.8 161.0,1056.3 161.3,1058.8 161.7,1061.3 162.0,1063.8 162.4,1066.3 162.8,1068.8 163.2,1071.3 163.6,1073.8 164.0,1076.3 164.4,1078.8 164.8,1081.3 165.3,1083.8 165.7,1086.3 166.2,1088.9 166.6,1091.4 167.1,1094.0 167.6,1096.5 168.1,1099.1 168.6,1101.6 169.2,1104.1 169.9,1106.5 170.7,1108.9 171.6,1111.2 172.6,1113.3 173.9,1115.3 175.3,1117.1 177.0,1118.7 178.9,1120.1 181.0,1121.2 183.3,1121.9 185.6,1122.0 187.8,1121.6 190.0,1120.7 192.0,1119.3 193.8,1117.6 195.4,1115.6 196.8,1113.4 198.2,1111.2 199.5,1109.0 200.8,1106.8 202.0,1104.5 203.2,1102.3 204.3,1100.0 205.4,1097.7 206.5,1095.4 207.5,1093.1 208.5,1090.8 209.5,1088.5 210.4,1086.2 211.4,1083.9 212.3,1081.5 213.2,1079.2 214.0,1076.8 214.9,1074.5 215.7,1072.1 216.5,1069.8 217.3,1067.4 218.1,1065.0 219.0,1062.7 219.8,1060.3 220.6,1057.9 221.4,1055.6 222.2,1053.2 222.9,1050.8 223.7,1048.5 224.5,1046.1 225.3,1043.7 226.1,1041.4 226.9,1039.0 227.7,1036.6 228.5,1034.3 229.3,1031.9 230.1,1029.5 230.9,1027.2 231.6,1024.8 232.4,1022.4 233.2,1020.0 234.0,1017.7 234.8,1015.3 235.6,1012.9 236.4,1010.6 237.1,1008.2 237.9,1005.8 238.7,1003.4 239.5,1001.1 240.3,998.7 241.0,996.3 241.8,994.0 242.6,991.6 243.4,989.2 244.2,986.8 244.9,984.5 245.7,982.1 246.5,979.7 247.3,977.3 248.1,975.0 248.8,972.6 249.6,970.2 250.4,967.8 251.2,965.5 251.9,963.1 252.7,960.7 253.5,958.4 254.3,956.0 255.1,953.6 255.8,951.2 256.6,948.9 257.4,946.5 258.2,944.1 259.0,941.7 259.7,939.4 260.5,937.0 261.3,934.6 262.1,932.3 262.9,929.9 263.7,927.5 264.4,925.1 265.2,922.8 266.0,920.4 266.8,918.0 267.6,915.6 268.4,913.3 269.2,910.9 269.9,908.5 270.7,906.2 271.5,903.8 272.3,901.4 273.1,899.0 273.9,896.7 274.7,894.3 275.5,891.9 276.3,889.6 277.1,887.2 277.9,884.8 278.7,882.4 279.5,880.1 280.3,877.7 281.1,875.3 281.9,873.0 282.7,870.6 283.5,868.2 284.3,865.9 285.1,863.5 285.9,861.1 286.7,858.8 287.6,856.4 288.4,854.0 289.2,851.7 290.0,849.3 290.8,846.9 291.6,844.6 292.5,842.2 293.3,839.8 294.1,837.5 295.0,835.1 295.8,832.7 296.6,830.4 297.5,828.0 298.3,825.6 299.1,823.3 300.0,820.9 300.8,818.6 301.7,816.2 302.5,813.8 303.3,811.5 304.2,809.1 305.0,806.8 305.9,804.4 306.8,802.0 307.6,799.7 308.5,797.3 309.3,795.0 310.2,792.6 311.1,790.2 311.9,787.9 312.8,785.5 313.7,783.2 314.6,780.8 315.5,778.5 316.3,776.1 317.2,773.8 318.1,771.4 319.0,769.1 319.9,766.7 320.8,764.4 321.7,762.0 322.6,759.7 323.6,757.4 324.5,755.0 325.5,752.7 326.4,750.4 327.4,748.1 328.4,745.8 329.4,743.5 330.4,741.2 331.4,738.9 332.5,736.7 333.5,734.4 334.6,732.2 335.7,729.9 336.8,727.7 337.9,725.5 339.1,723.3 340.2,721.1 341.4,718.9 342.6,716.7 343.9,714.6 345.1,712.4 346.4,710.3 347.7,708.2 349.1,706.1 350.4,704.1 351.8,702.0 353.2,700.0 354.7,697.9 356.1,695.9 357.6,694.0 359.2,692.0 360.7,690.0 362.3,688.1 364.0,686.2 365.6,684.3 367.3,682.5 369.1,680.6 370.9,678.8 372.7,677.1 374.5,675.3 376.4,673.6 378.3,672.0 380.2,670.4 382.2,668.8 384.3,667.3 386.3,665.9 388.4,664.6 390.5,663.3 392.7,662.1 394.9,660.9 397.2,659.9 399.4,658.9 401.7,658.1 404.1,657.3 406.5,656.6 408.9,656.1 411.4,655.6 413.9,655.3 416.4,655.1 419.0,655.0 940.0,654.9"/>
<polyline class="c" stroke="#ed1c24" points="132.6,654.9 132.8,657.4 132.9,659.9 133.1,662.4 133.2,664.9 133.3,667.4 133.5,669.9 133.6,672.4 133.8,674.9 133.9,677.4 134.0,679.9 134.2,682.5 134.3,685.0 134.4,687.5 134.6,690.0 134.7,692.5 134.8,695.0 135.0,697.5 135.1,700.0 135.2,702.5 135.3,705.0 135.4,707.5 135.6,710.0 135.7,712.5 135.8,715.0 135.9,717.5 136.0,720.0 136.2,722.5 136.3,725.0 136.4,727.5 136.5,730.0 136.6,732.5 136.8,735.0 136.9,737.5 137.0,740.0 137.1,742.5 137.2,745.0 137.3,747.5 137.4,750.0 137.6,752.5 137.7,755.0 137.8,757.5 137.9,760.0 138.0,762.5 138.1,765.0 138.3,767.4 138.4,769.9 138.5,772.4 138.6,774.9 138.7,777.4 138.9,779.9 139.0,782.4 139.1,784.9 139.2,787.4 139.3,789.9 139.5,792.4 139.6,794.9 139.7,797.4 139.9,799.9 140.0,802.4 140.1,804.9 140.2,807.4 140.4,809.9 140.5,812.4 140.7,814.9 140.8,817.3 140.9,819.8 141.1,822.3 141.2,824.8 141.4,827.3 141.5,829.8 141.7,832.3 141.8,834.8 142.0,837.3 142.1,839.8 142.3,842.3 142.4,844.8 142.6,847.3 142.8,849.7 142.9,852.2 143.1,854.7 143.3,857.2 143.4,859.7 143.6,862.2 143.8,864.7 144.0,867.2 144.2,869.7 144.4,872.2 144.5,874.7 144.7,877.1 144.9,879.6 145.1,882.1 145.3,884.6 145.5,887.1 145.8,889.6 146.0,892.1 146.2,894.6 146.4,897.1 146.6,899.6 146.9,902.0 147.1,904.5 147.3,907.0 147.6,909.5 147.8,912.0 148.0,914.5 148.3,917.0 148.5,919.5 148.8,922.0 149.1,924.4 149.3,926.9 149.6,929.4 149.9,931.9 150.2,934.4 150.4,936.9 150.7,939.4 151.0,941.9 151.3,944.3 151.6,946.8 151.9,949.3 152.2,951.8 152.5,954.3 152.9,956.8 153.2,959.3 153.5,961.8 153.8,964.2 154.2,966.7 154.5,969.2 154.9,971.7 155.2,974.2 155.6,976.7 156.0,979.2 156.3,981.7 156.7,984.1 157.1,986.6 157.5,989.1 157.8,991.6 158.2,994.1 158.6,996.6 159.0,999.0 159.4,1001.5 159.8,1004.0 160.2,1006.5 160.6,1008.9 160.9,1011.4 161.3,1013.9 161.7,1016.4 162.0,1018.8 162.4,1021.3 162.7,1023.7 163.1,1026.2 163.4,1028.6 163.7,1031.1 164.0,1033.5 164.3,1035.9 164.6,1038.4 164.9,1040.8 165.1,1043.2 165.4,1045.6 165.7,1048.0 166.0,1050.5 166.4,1052.9 166.9,1055.4 167.5,1057.9 168.3,1060.5 169.2,1063.1 170.3,1065.7 171.5,1068.2 172.9,1070.4 174.4,1072.5 176.1,1074.1 177.9,1075.3 179.8,1076.0 181.9,1076.0 184.0,1075.4 186.1,1074.3 187.9,1072.8 189.5,1070.8 190.9,1068.7 192.2,1066.4 193.4,1064.2 194.6,1061.9 195.8,1059.6 196.8,1057.4 197.9,1055.1 198.9,1052.7 199.9,1050.4 200.8,1048.1 201.7,1045.8 202.6,1043.4 203.4,1041.1 204.2,1038.7 205.0,1036.3 205.8,1034.0 206.6,1031.6 207.3,1029.2 208.1,1026.8 208.8,1024.4 209.5,1022.0 210.2,1019.7 210.9,1017.3 211.7,1014.9 212.4,1012.5 213.1,1010.1 213.8,1007.7 214.5,1005.3 215.2,1002.9 215.9,1000.5 216.6,998.1 217.3,995.7 218.0,993.3 218.7,990.9 219.3,988.5 220.0,986.1 220.7,983.7 221.4,981.3 222.1,978.9 222.8,976.4 223.4,974.0 224.1,971.6 224.8,969.2 225.5,966.8 226.2,964.4 226.8,962.0 227.5,959.6 228.2,957.2 228.8,954.8 229.5,952.3 230.2,949.9 230.9,947.5 231.5,945.1 232.2,942.7 232.9,940.3 233.5,937.9 234.2,935.5 234.9,933.0 235.5,930.6 236.2,928.2 236.9,925.8 237.5,923.4 238.2,921.0 238.9,918.5 239.5,916.1 240.2,913.7 240.9,911.3 241.5,908.9 242.2,906.5 242.9,904.1 243.6,901.7 244.2,899.2 244.9,896.8 245.6,894.4 246.3,892.0 246.9,889.6 247.6,887.2 248.3,884.8 249.0,882.4 249.6,879.9 250.3,877.5 251.0,875.1 251.7,872.7 252.4,870.3 253.1,867.9 253.8,865.5 254.5,863.1 255.1,860.7 255.8,858.3 256.5,855.9 257.2,853.5 257.9,851.1 258.6,848.7 259.3,846.3 260.1,843.9 260.8,841.5 261.5,839.1 262.2,836.7 262.9,834.3 263.6,831.9 264.4,829.5 265.1,827.1 265.8,824.7 266.5,822.3 267.3,820.0 268.0,817.6 268.8,815.2 269.5,812.8 270.2,810.4 271.0,808.0 271.8,805.7 272.5,803.3 273.3,800.9 274.0,798.5 274.8,796.2 275.6,793.8 276.4,791.4 277.1,789.1 277.9,786.7 278.7,784.3 279.5,782.0 280.3,779.6 281.1,777.3 281.9,774.9 282.7,772.5 283.5,770.2 284.3,767.8 285.2,765.5 286.0,763.1 286.8,760.8 287.6,758.4 288.5,756.1 289.3,753.8 290.2,751.4 291.0,749.1 291.8,746.7 292.7,744.4 293.5,742.0 294.3,739.7 295.2,737.3 296.0,735.0 296.8,732.6 297.7,730.3 298.5,727.9 299.3,725.6 300.1,723.2 300.9,720.8 301.7,718.5 302.5,716.1 303.3,713.7 304.1,711.3 304.9,709.0 305.7,706.6 306.4,704.2 307.2,701.8 307.9,699.4 308.7,697.0 309.4,694.5 310.1,692.1 310.8,689.7 311.5,687.2 312.2,684.8 312.8,682.4 313.6,679.9 314.3,677.5 315.1,675.2 316.0,672.9 316.9,670.6 318.0,668.4 319.2,666.2 320.4,664.1 321.9,662.1 323.4,660.3 325.2,658.5 327.1,656.8 329.2,655.2 940.0,654.9"/>
<polyline class="c" stroke="#0000ff" points="132.6,654.9 132.8,657.4 132.9,659.9 133.1,662.4 133.2,664.9 133.4,667.5 133.5,670.0 133.7,672.5 133.8,675.0 134.0,677.5 134.1,680.0 134.2,682.5 134.4,685.0 134.5,687.5 134.7,690.0 134.8,692.5 134.9,695.0 135.1,697.5 135.2,700.1 135.3,702.6 135.5,705.1 135.6,707.6 135.7,710.1 135.9,712.6 136.0,715.1 136.1,717.6 136.2,720.1 136.4,722.6 136.5,725.1 136.6,727.6 136.7,730.1 136.9,732.6 137.0,735.1 137.1,737.6 137.3,740.1 137.4,742.6 137.5,745.1 137.6,747.6 137.8,750.1 137.9,752.6 138.0,755.1 138.1,757.5 138.3,760.0 138.4,762.5 138.5,765.0 138.7,767.5 138.8,770.0 138.9,772.5 139.0,775.0 139.2,777.5 139.3,780.0 139.5,782.5 139.6,785.0 139.7,787.5 139.9,790.0 140.0,792.5 140.1,795.0 140.3,797.4 140.4,799.9 140.6,802.4 140.7,804.9 140.9,807.4 141.0,809.9 141.2,812.4 141.3,814.9 141.5,817.4 141.7,819.9 141.8,822.4 142.0,824.8 142.1,827.3 142.3,829.8 142.5,832.3 142.7,834.8 142.8,837.3 143.0,839.8 143.2,842.3 143.4,844.8 143.6,847.2 143.7,849.7 143.9,852.2 144.1,854.7 144.3,857.2 144.5,859.7 144.7,862.2 144.9,864.7 145.1,867.1 145.4,869.6 145.6,872.1 145.8,874.6 146.0,877.1 146.2,879.6 146.5,882.1 146.7,884.6 146.9,887.0 147.2,889.5 147.4,892.0 147.7,894.5 147.9,897.0 148.2,899.5 148.4,902.0 148.7,904.4 149.0,906.9 149.3,909.4 149.5,911.9 149.8,914.4 150.1,916.9 150.4,919.4 150.7,921.9 151.0,924.3 151.3,926.8 151.6,929.3 151.9,931.8 152.2,934.3 152.6,936.8 152.9,939.3 153.2,941.8 153.6,944.2 153.9,946.7 154.3,949.2 154.6,951.7 155.0,954.2 155.3,956.7 155.7,959.2 156.1,961.7 156.5,964.1 156.9,966.6 157.3,969.1 157.7,971.6 158.1,974.1 158.5,976.6 158.9,979.1 159.4,981.6 159.8,984.0 160.3,986.5 160.8,989.0 161.3,991.4 161.9,993.9 162.4,996.3 163.1,998.7 163.7,1001.2 164.4,1003.5 165.2,1005.9 166.0,1008.3 166.8,1010.6 167.7,1012.9 168.6,1015.2 169.7,1017.5 170.7,1019.8 171.9,1022.0 173.1,1024.1 174.6,1025.8 176.3,1026.8 178.3,1027.0 180.3,1026.3 182.4,1025.0 184.3,1023.0 186.0,1020.8 187.5,1018.5 188.7,1016.1 189.8,1013.7 190.8,1011.4 191.7,1009.0 192.6,1006.6 193.5,1004.2 194.4,1001.9 195.2,999.5 196.0,997.1 196.8,994.7 197.5,992.3 198.2,989.9 198.9,987.5 199.6,985.2 200.3,982.8 201.0,980.4 201.7,978.0 202.3,975.6 203.0,973.2 203.6,970.8 204.3,968.4 204.9,966.0 205.6,963.6 206.3,961.1 206.9,958.7 207.6,956.3 208.2,953.9 208.9,951.5 209.5,949.1 210.2,946.7 210.8,944.3 211.5,941.9 212.1,939.5 212.7,937.0 213.4,934.6 214.0,932.2 214.7,929.8 215.3,927.4 216.0,925.0 216.6,922.5 217.2,920.1 217.9,917.7 218.5,915.3 219.2,912.9 219.8,910.4 220.4,908.0 221.1,905.6 221.7,903.2 222.4,900.8 223.0,898.3 223.6,895.9 224.3,893.5 224.9,891.1 225.5,888.6 226.2,886.2 226.8,883.8 227.4,881.4 228.1,878.9 228.7,876.5 229.4,874.1 230.0,871.7 230.6,869.2 231.3,866.8 231.9,864.4 232.5,862.0 233.2,859.5 233.8,857.1 234.4,854.7 235.1,852.2 235.7,849.8 236.3,847.4 237.0,845.0 237.6,842.5 238.3,840.1 238.9,837.7 239.5,835.3 240.2,832.9 240.8,830.4 241.4,828.0 242.1,825.6 242.7,823.2 243.4,820.7 244.0,818.3 244.6,815.9 245.3,813.5 245.9,811.1 246.6,808.6 247.2,806.2 247.9,803.8 248.5,801.4 249.2,799.0 249.8,796.6 250.4,794.1 251.1,791.7 251.7,789.3 252.4,786.9 253.0,784.5 253.7,782.1 254.4,779.7 255.0,777.3 255.7,774.9 256.3,772.5 257.0,770.1 257.6,767.7 258.3,765.2 258.9,762.8 259.6,760.4 260.3,758.0 260.9,755.6 261.6,753.3 262.3,750.9 262.9,748.5 263.6,746.1 264.3,743.7 264.9,741.3 265.6,738.9 266.3,736.5 267.0,734.1 267.6,731.7 268.3,729.3 269.0,726.9 269.7,724.5 270.3,722.1 271.0,719.7 271.7,717.2 272.4,714.8 273.0,712.4 273.7,710.0 274.4,707.6 275.1,705.2 275.8,702.8 276.4,700.3 277.1,697.9 277.8,695.5 278.5,693.0 279.2,690.6 279.9,688.2 280.6,685.7 281.3,683.3 282.1,680.9 282.9,678.5 283.7,676.2 284.7,673.9 285.6,671.6 286.7,669.3 287.8,667.1 289.0,665.0 290.4,662.9 291.8,660.9 293.3,658.9 295.0,657.0 296.7,655.2 940.0,654.9"/>
<polyline class="c" stroke="#000000" points="132.6,654.9 132.8,657.4 133.1,659.9 133.3,662.4 133.6,664.9 133.8,667.4 134.0,669.9 134.2,672.4 134.4,674.9 134.6,677.4 134.8,679.9 135.0,682.4 135.2,684.9 135.4,687.4 135.6,689.9 135.8,692.4 135.9,694.9 136.1,697.4 136.3,699.9 136.4,702.4 136.6,704.9 136.7,707.4 136.9,709.9 137.0,712.4 137.2,714.9 137.3,717.4 137.5,719.9 137.6,722.5 137.7,725.0 137.9,727.5 138.0,730.0 138.1,732.5 138.3,735.0 138.4,737.5 138.5,740.0 138.6,742.5 138.8,745.0 138.9,747.5 139.0,750.0 139.1,752.5 139.2,754.9 139.4,757.4 139.5,759.9 139.6,762.4 139.7,764.9 139.8,767.4 140.0,769.9 140.1,772.4 140.2,774.9 140.3,777.4 140.4,779.9 140.5,782.4 140.7,784.9 140.8,787.4 140.9,789.9 141.0,792.4 141.2,794.9 141.3,797.4 141.4,799.9 141.6,802.4 141.7,804.9 141.8,807.4 142.0,809.9 142.1,812.4 142.2,814.9 142.4,817.4 142.5,819.9 142.7,822.4 142.8,824.9 143.0,827.3 143.2,829.8 143.3,832.3 143.5,834.8 143.7,837.3 143.9,839.8 144.0,842.3 144.2,844.8 144.4,847.3 144.6,849.8 144.8,852.3 145.0,854.8 145.2,857.3 145.4,859.7 145.6,862.2 145.9,864.7 146.1,867.2 146.3,869.7 146.6,872.2 146.8,874.7 147.1,877.2 147.3,879.7 147.6,882.1 147.9,884.6 148.2,887.1 148.4,889.6 148.7,892.1 149.0,894.6 149.3,897.1 149.7,899.6 150.0,902.0 150.3,904.5 150.7,907.0 151.0,909.5 151.4,912.0 151.7,914.5 152.1,916.9 152.5,919.4 152.8,921.9 153.2,924.4 153.6,926.9 154.1,929.4 154.5,931.8 154.9,934.3 155.4,936.8 155.8,939.3 156.3,941.8 156.7,944.2 157.2,946.7 157.7,949.2 158.2,951.7 158.7,954.1 159.3,956.6 159.9,959.1 160.5,961.5 161.2,963.9 161.9,966.3 162.8,968.7 163.7,971.0 164.7,973.3 165.8,975.5 167.0,977.7 168.4,979.9 169.9,981.9 171.4,983.7 173.1,984.8 174.8,985.2 176.6,984.5 178.4,983.0 180.0,980.9 181.5,978.5 182.7,976.0 183.8,973.5 184.8,971.0 185.7,968.5 186.6,966.1 187.4,963.7 188.2,961.3 189.0,958.9 189.7,956.5 190.4,954.2 191.1,951.8 191.8,949.4 192.5,947.1 193.2,944.7 193.8,942.3 194.5,939.9 195.2,937.6 195.8,935.2 196.5,932.8 197.1,930.4 197.7,928.0 198.4,925.6 199.0,923.2 199.6,920.8 200.2,918.4 200.8,916.0 201.5,913.6 202.1,911.1 202.7,908.7 203.2,906.3 203.8,903.9 204.4,901.5 205.0,899.0 205.6,896.6 206.2,894.2 206.7,891.7 207.3,889.3 207.9,886.9 208.4,884.4 209.0,882.0 209.6,879.5 210.1,877.1 210.7,874.6 211.2,872.2 211.8,869.7 212.3,867.3 212.9,864.8 213.4,862.4 213.9,859.9 214.5,857.5 215.0,855.0 215.5,852.5 216.1,850.1 216.6,847.6 217.1,845.2 217.7,842.7 218.2,840.2 218.7,837.8 219.2,835.3 219.8,832.8 220.3,830.4 220.8,827.9 221.3,825.4 221.9,823.0 222.4,820.5 222.9,818.0 223.4,815.6 223.9,813.1 224.5,810.6 225.0,808.2 225.5,805.7 226.0,803.3 226.6,800.8 227.1,798.3 227.6,795.9 228.1,793.4 228.7,790.9 229.2,788.5 229.7,786.0 230.3,783.6 230.8,781.1 231.3,778.7 231.9,776.2 232.4,773.8 233.0,771.3 233.5,768.9 234.1,766.4 234.6,764.0 235.2,761.5 235.7,759.1 236.3,756.7 236.8,754.2 237.4,751.8 238.0,749.3 238.5,746.9 239.1,744.5 239.7,742.1 240.3,739.6 240.9,737.2 241.5,734.8 242.0,732.4 242.6,730.0 243.2,727.6 243.9,725.1 244.5,722.7 245.1,720.3 245.7,717.9 246.3,715.5 247.0,713.1 247.6,710.7 248.2,708.3 248.9,705.9 249.6,703.5 250.2,701.0 250.9,698.6 251.6,696.2 252.3,693.8 252.9,691.4 253.6,689.0 254.4,686.6 255.1,684.2 255.8,681.8 256.5,679.3 257.3,676.9 258.0,674.5 258.8,672.1 259.6,669.7 260.4,667.3 261.4,665.0 262.5,662.8 263.8,660.7 265.2,658.7 266.9,656.9 268.9,655.2 940.0,654.9"/>
</g>
<rect class="b" x="132.2" y="654.3" width="849.8" height="495.7"/>
</g>
<g id="panel-D">
<line class="g" x1="1311.2" y1="653.3" x2="1311.2" y2="1149.6"/>
<line class="g" x1="1480.8" y1="653.3" x2="1480.8" y2="1149.6"/>
<line class="g" x1="1651.9" y1="653.3" x2="1651.9" y2="1149.6"/>
<line class="g" x1="1821" y1="653.3" x2="1821" y2="1149.6"/>
<line class="g" x1="1141.4" y1="819.7" x2="1991" y2="819.7"/>
<line class="g" x1="1141.4" y1="982.8" x2="1991" y2="982.8"/>
<g clip-path="url(#clipD)">
<polyline class="c" stroke="#00a651" points="1143.4,836.6 1143.7,839.2 1143.9,841.7 1144.2,844.2 1144.4,846.7 1144.7,849.2 1144.9,851.7 1145.1,854.2 1145.4,856.7 1145.6,859.2 1145.8,861.7 1146.1,864.2 1146.3,866.7 1146.5,869.2 1146.7,871.7 1147.0,874.2 1147.2,876.7 1147.4,879.2 1147.6,881.7 1147.9,884.2 1148.1,886.7 1148.3,889.1 1148.5,891.6 1148.7,894.1 1149.0,896.6 1149.2,899.1 1149.4,901.6 1149.6,904.0 1149.8,906.5 1150.1,909.0 1150.3,911.5 1150.5,914.0 1150.7,916.4 1150.9,918.9 1151.2,921.4 1151.4,923.9 1151.6,926.3 1151.8,928.8 1152.1,931.3 1152.3,933.8 1152.5,936.2 1152.8,938.7 1153.0,941.2 1153.2,943.7 1153.5,946.1 1153.7,948.6 1153.9,951.1 1154.2,953.6 1154.4,956.0 1154.7,958.5 1154.9,961.0 1155.2,963.4 1155.4,965.9 1155.7,968.4 1155.9,970.9 1156.2,973.3 1156.5,975.8 1156.7,978.3 1157.0,980.8 1157.3,983.3 1157.6,985.7 1157.8,988.2 1158.1,990.7 1158.4,993.2 1158.7,995.7 1159.0,998.1 1159.3,1000.6 1159.6,1003.1 1159.9,1005.6 1160.2,1008.1 1160.5,1010.6 1160.9,1013.0 1161.2,1015.5 1161.5,1018.0 1161.8,1020.5 1162.2,1023.0 1162.5,1025.5 1162.9,1028.0 1163.2,1030.5 1163.6,1033.0 1163.9,1035.5 1164.3,1038.0 1164.7,1040.5 1165.1,1043.0 1165.5,1045.5 1165.9,1048.0 1166.3,1050.5 1166.7,1053.0 1167.1,1055.5 1167.5,1058.0 1168.0,1060.5 1168.5,1063.0 1169.0,1065.5 1169.5,1068.0 1170.0,1070.5 1170.6,1072.9 1171.2,1075.4 1171.8,1077.8 1172.4,1080.3 1173.1,1082.7 1173.8,1085.1 1174.6,1087.5 1175.4,1089.9 1176.2,1092.3 1177.0,1094.6 1177.9,1097.0 1178.9,1099.3 1179.9,1101.6 1180.9,1103.9 1182.0,1106.2 1183.2,1108.4 1184.3,1110.6 1185.6,1112.8 1186.9,1115.0 1188.3,1117.1 1189.7,1119.2 1191.2,1121.2 1192.7,1123.1 1194.3,1125.0 1196.0,1126.7 1197.8,1128.4 1199.6,1129.9 1201.5,1131.4 1203.5,1132.7 1205.6,1133.9 1207.7,1135.0 1209.8,1136.1 1212.0,1137.0 1214.3,1137.9 1216.6,1138.7 1218.9,1139.4 1221.3,1140.0 1223.7,1140.6 1226.2,1141.0 1228.7,1141.5 1231.2,1141.9 1233.7,1142.2 1236.2,1142.5 1238.8,1142.7 1241.3,1142.9 1243.9,1143.1 1246.4,1143.2 1249.0,1143.3 1251.5,1143.4 1254.1,1143.4 1256.6,1143.5 1259.1,1143.5 1261.6,1143.5 1264.2,1143.4 1266.7,1143.4 1269.2,1143.3 1271.7,1143.3 1274.2,1143.2 1276.7,1143.1 1279.2,1142.9 1281.7,1142.8 1284.2,1142.7 1286.7,1142.5 1289.2,1142.3 1291.7,1142.2 1294.2,1142.0 1296.7,1141.8 1299.1,1141.6 1301.6,1141.5 1304.1,1141.3 1306.6,1141.1 1309.1,1140.9 1311.6,1140.7 1314.1,1140.5 1316.6,1140.4 1319.0,1140.2 1321.5,1140.0 1324.0,1139.8 1326.5,1139.7 1329.0,1139.5 1331.5,1139.4 1334.0,1139.2 1336.5,1139.0 1339.0,1138.9 1341.5,1138.7 1344.0,1138.6 1346.5,1138.4 1349.0,1138.3 1351.5,1138.1 1353.9,1138.0 1356.4,1137.9 1358.9,1137.7 1361.4,1137.6 1363.9,1137.4 1366.4,1137.3 1368.9,1137.2 1371.4,1137.0 1373.9,1136.9 1376.4,1136.8 1378.9,1136.7 1381.4,1136.5 1383.9,1136.4 1386.4,1136.3 1388.9,1136.2 1391.4,1136.0 1393.9,1135.9 1396.4,1135.8 1398.9,1135.7 1401.4,1135.6 1403.9,1135.4 1406.4,1135.3 1408.9,1135.2 1411.4,1135.1 1413.9,1135.0 1416.4,1134.8 1418.9,1134.7 1421.4,1134.6 1423.9,1134.5 1426.4,1134.4 1428.9,1134.3 1431.4,1134.1 1433.9,1134.0 1436.4,1133.9 1438.9,1133.8 1441.4,1133.7 1443.9,1133.6 1446.4,1133.4 1448.9,1133.3 1451.4,1133.2 1453.9,1133.1 1456.4,1133.0 1458.9,1132.9 1461.4,1132.8 1463.9,1132.6 1466.4,1132.5 1468.9,1132.4 1471.4,1132.3 1473.9,1132.2 1476.4,1132.1 1478.9,1132.0 1481.4,1131.8 1483.9,1131.7 1486.4,1131.6 1488.9,1131.5 1491.4,1131.4 1493.9,1131.3 1496.4,1131.2 1498.9,1131.1 1501.4,1131.0 1503.9,1130.9 1506.4,1130.7 1508.9,1130.6 1511.4,1130.5 1513.9,1130.4 1516.4,1130.3 1518.9,1130.2 1521.4,1130.1 1523.9,1130.0 1526.4,1129.9 1528.9,1129.8 1531.4,1129.7 1533.9,1129.6 1536.4,1129.5 1538.9,1129.3 1541.4,1129.2 1543.9,1129.1 1546.4,1129.0 1548.9,1128.9 1551.4,1128.8 1553.9,1128.7 1556.4,1128.6 1558.9,1128.5 1561.4,1128.4 1563.9,1128.3 1566.4,1128.2 1568.9,1128.1 1571.4,1128.0 1573.9,1127.9 1576.4,1127.8 1578.9,1127.7 1581.4,1127.6 1583.9,1127.5 1586.4,1127.4 1588.9,1127.3 1591.4,1127.2 1593.9,1127.1 1596.4,1127.0 1598.9,1127.0 1601.4,1126.9 1603.9,1126.8 1606.4,1126.7 1608.9,1126.6 1611.4,1126.5 1613.9,1126.4 1616.4,1126.3 1618.9,1126.2 1621.4,1126.1 1623.9,1126.0 1626.4,1125.9 1628.9,1125.9 1631.4,1125.8 1633.9,1125.7 1636.4,1125.6 1638.9,1125.5 1641.4,1125.4 1643.9,1125.3 1646.4,1125.2 1648.9,1125.2 1651.4,1125.1 1653.9,1125.0 1656.4,1124.9 1658.9,1124.8 1661.4,1124.7 1663.9,1124.7 1666.4,1124.6 1668.9,1124.5 1671.4,1124.4 1673.9,1124.3 1676.4,1124.3 1678.9,1124.2 1681.4,1124.1 1683.9,1124.0 1686.4,1124.0 1688.9,1123.9 1691.4,1123.8 1693.9,1123.7 1696.4,1123.7 1698.9,1123.6 1701.4,1123.5 1703.9,1123.5 1706.4,1123.4 1708.9,1123.3 1711.4,1123.2 1713.9,1123.2 1716.4,1123.1 1718.9,1123.0 1721.4,1123.0 1723.9,1122.9 1726.4,1122.8 1728.9,1122.8 1731.4,1122.7 1733.9,1122.7 1736.4,1122.6 1738.9,1122.5 1741.4,1122.5 1743.9,1122.4 1746.4,1122.4 1748.9,1122.3 1751.4,1122.2 1753.9,1122.2 1756.4,1122.1 1758.9,1122.1 1761.4,1122.0 1763.9,1122.0 1766.4,1121.9 1768.9,1121.9 1771.4,1121.8 1773.9,1121.7 1776.4,1121.7 1778.9,1121.7 1781.4,1121.6 1783.9,1121.6 1786.4,1121.5 1788.9,1121.5 1791.4,1121.4 1793.9,1121.4 1796.4,1121.3 1798.9,1121.3 1801.4,1121.2 1803.9,1121.2 1806.4,1121.2 1808.9,1121.1 1811.4,1121.1 1813.9,1121.0 1816.4,1121.0 1818.9,1121.0 1821.4,1120.9 1823.9,1120.9 1826.4,1120.9 1828.9,1120.8 1831.4,1120.8 1833.9,1120.8 1836.4,1120.7 1838.9,1120.7 1841.4,1120.7 1843.9,1120.7 1846.4,1120.6 1848.9,1120.6 1851.4,1120.6 1853.9,1120.6 1856.4,1120.5 1858.9,1120.5 1861.4,1120.5 1863.9,1120.5 1866.4,1120.5 1868.9,1120.4 1871.4,1120.4 1873.9,1120.4 1876.4,1120.4 1878.9,1120.4 1881.4,1120.4 1883.9,1120.4 1886.4,1120.3 1888.9,1120.3 1891.4,1120.3 1893.9,1120.3 1896.4,1120.3 1898.9,1120.3 1901.4,1120.3 1903.9,1120.3 1906.4,1120.3 1909.0,1120.3 1911.5,1120.3 1914.0,1120.3 1916.5,1120.3 1919.0,1120.3 1921.5,1120.3 1924.0,1120.3 1926.5,1120.3 1929.0,1120.3 1931.5,1120.3 1934.0,1120.3 1936.5,1120.3 1939.0,1120.3 1941.5,1120.4 1944.0,1120.4 1946.5,1120.4 1949.0,1120.4"/>
<polyline class="c" stroke="#ed1c24" points="1143.4,792.6 1143.8,795.1 1144.1,797.6 1144.4,800.2 1144.8,802.7 1145.1,805.2 1145.4,807.7 1145.7,810.2 1146.0,812.7 1146.3,815.2 1146.5,817.7 1146.8,820.2 1147.1,822.7 1147.4,825.2 1147.6,827.8 1147.9,830.2 1148.2,832.7 1148.4,835.2 1148.7,837.7 1148.9,840.2 1149.2,842.7 1149.4,845.2 1149.7,847.7 1149.9,850.2 1150.2,852.7 1150.4,855.2 1150.6,857.7 1150.9,860.1 1151.1,862.6 1151.3,865.1 1151.6,867.6 1151.8,870.1 1152.0,872.6 1152.2,875.0 1152.5,877.5 1152.7,880.0 1152.9,882.5 1153.2,885.0 1153.4,887.4 1153.6,889.9 1153.9,892.4 1154.1,894.9 1154.4,897.3 1154.6,899.8 1154.8,902.3 1155.1,904.8 1155.3,907.2 1155.6,909.7 1155.8,912.2 1156.1,914.7 1156.4,917.1 1156.6,919.6 1156.9,922.1 1157.2,924.5 1157.4,927.0 1157.7,929.5 1158.0,932.0 1158.3,934.4 1158.6,936.9 1158.9,939.4 1159.2,941.8 1159.5,944.3 1159.8,946.8 1160.1,949.3 1160.5,951.7 1160.8,954.2 1161.2,956.7 1161.5,959.2 1161.9,961.6 1162.2,964.1 1162.6,966.6 1163.0,969.0 1163.4,971.5 1163.8,974.0 1164.2,976.5 1164.6,979.0 1165.0,981.4 1165.4,983.9 1165.9,986.4 1166.3,988.9 1166.8,991.4 1167.3,993.8 1167.7,996.3 1168.2,998.8 1168.7,1001.3 1169.3,1003.8 1169.8,1006.3 1170.3,1008.7 1170.9,1011.2 1171.4,1013.7 1172.0,1016.2 1172.6,1018.7 1173.1,1021.2 1173.8,1023.7 1174.4,1026.2 1175.0,1028.7 1175.6,1031.2 1176.3,1033.7 1177.0,1036.1 1177.7,1038.6 1178.4,1041.1 1179.2,1043.5 1180.0,1045.9 1180.8,1048.3 1181.7,1050.7 1182.6,1053.0 1183.6,1055.3 1184.6,1057.6 1185.6,1059.9 1186.7,1062.0 1187.8,1064.2 1189.1,1066.3 1190.3,1068.3 1191.6,1070.3 1193.0,1072.3 1194.5,1074.2 1196.0,1076.0 1197.6,1077.7 1199.3,1079.4 1201.1,1081.0 1202.9,1082.6 1204.8,1084.0 1206.8,1085.4 1208.9,1086.7 1211.1,1087.9 1213.3,1089.0 1215.6,1090.1 1217.9,1091.1 1220.3,1092.0 1222.8,1092.8 1225.3,1093.5 1227.8,1094.2 1230.3,1094.8 1232.8,1095.3 1235.4,1095.7 1237.9,1096.1 1240.5,1096.4 1243.0,1096.6 1245.6,1096.7 1248.1,1096.8 1250.6,1096.9 1253.2,1096.9 1255.7,1096.9 1258.2,1096.8 1260.7,1096.7 1263.2,1096.7 1265.7,1096.6 1268.2,1096.5 1270.7,1096.4 1273.3,1096.4 1275.8,1096.3 1278.3,1096.3 1280.8,1096.2 1283.3,1096.1 1285.8,1096.1 1288.3,1096.0 1290.8,1096.0 1293.3,1095.9 1295.8,1095.8 1298.3,1095.8 1300.8,1095.7 1303.3,1095.7 1305.7,1095.6 1308.2,1095.5 1310.7,1095.4 1313.2,1095.4 1315.7,1095.3 1318.2,1095.2 1320.7,1095.1 1323.2,1095.0 1325.7,1094.9 1328.2,1094.8 1330.7,1094.7 1333.2,1094.6 1335.7,1094.5 1338.2,1094.4 1340.7,1094.2 1343.2,1094.1 1345.7,1093.9 1348.2,1093.8 1350.7,1093.6 1353.2,1093.5 1355.7,1093.3 1358.2,1093.2 1360.7,1093.0 1363.2,1092.8 1365.7,1092.6 1368.2,1092.5 1370.7,1092.3 1373.2,1092.1 1375.7,1091.9 1378.2,1091.7 1380.7,1091.5 1383.2,1091.4 1385.7,1091.2 1388.2,1091.0 1390.7,1090.8 1393.2,1090.6 1395.7,1090.4 1398.2,1090.2 1400.7,1090.0 1403.2,1089.8 1405.7,1089.7 1408.2,1089.5 1410.7,1089.3 1413.2,1089.1 1415.7,1088.9 1418.2,1088.7 1420.7,1088.6 1423.2,1088.4 1425.7,1088.2 1428.2,1088.0 1430.7,1087.9 1433.2,1087.7 1435.7,1087.5 1438.2,1087.3 1440.7,1087.2 1443.2,1087.0 1445.7,1086.8 1448.2,1086.7 1450.7,1086.5 1453.2,1086.3 1455.7,1086.2 1458.2,1086.0 1460.7,1085.8 1463.2,1085.7 1465.7,1085.5 1468.2,1085.4 1470.7,1085.2 1473.2,1085.0 1475.7,1084.9 1478.2,1084.7 1480.7,1084.6 1483.2,1084.4 1485.7,1084.3 1488.2,1084.1 1490.7,1083.9 1493.2,1083.8 1495.7,1083.6 1498.2,1083.5 1500.7,1083.4 1503.2,1083.2 1505.7,1083.1 1508.2,1082.9 1510.7,1082.8 1513.2,1082.6 1515.7,1082.5 1518.2,1082.3 1520.7,1082.2 1523.2,1082.1 1525.7,1081.9 1528.2,1081.8 1530.7,1081.6 1533.2,1081.5 1535.7,1081.4 1538.2,1081.2 1540.7,1081.1 1543.2,1081.0 1545.7,1080.8 1548.2,1080.7 1550.8,1080.6 1553.3,1080.5 1555.8,1080.3 1558.3,1080.2 1560.8,1080.1 1563.3,1080.0 1565.8,1079.8 1568.3,1079.7 1570.8,1079.6 1573.3,1079.5 1575.8,1079.3 1578.3,1079.2 1580.8,1079.1 1583.3,1079.0 1585.8,1078.9 1588.3,1078.8 1590.8,1078.6 1593.3,1078.5 1595.8,1078.4 1598.3,1078.3 1600.8,1078.2 1603.3,1078.1 1605.8,1078.0 1608.3,1077.9 1610.8,1077.7 1613.3,1077.6 1615.8,1077.5 1618.3,1077.4 1620.8,1077.3 1623.3,1077.2 1625.8,1077.1 1628.3,1077.0 1630.8,1076.9 1633.3,1076.8 1635.9,1076.7 1638.4,1076.6 1640.9,1076.5 1643.4,1076.4 1645.9,1076.3 1648.4,1076.2 1650.9,1076.1 1653.4,1076.0 1655.9,1075.9 1658.4,1075.9 1660.9,1075.8 1663.4,1075.7 1665.9,1075.6 1668.4,1075.5 1670.9,1075.4 1673.4,1075.3 1675.9,1075.2 1678.4,1075.1 1680.9,1075.1 1683.4,1075.0 1685.9,1074.9 1688.4,1074.8 1690.9,1074.7 1693.4,1074.6 1695.9,1074.6 1698.4,1074.5 1701.0,1074.4 1703.5,1074.3 1706.0,1074.3 1708.5,1074.2 1711.0,1074.1 1713.5,1074.0 1716.0,1074.0 1718.5,1073.9 1721.0,1073.8 1723.5,1073.7 1726.0,1073.7 1728.5,1073.6 1731.0,1073.5 1733.5,1073.5 1736.0,1073.4 1738.5,1073.3 1741.0,1073.3 1743.5,1073.2 1746.0,1073.1 1748.5,1073.1 1751.0,1073.0 1753.5,1072.9 1756.0,1072.9 1758.6,1072.8 1761.1,1072.8 1763.6,1072.7 1766.1,1072.6 1768.6,1072.6 1771.1,1072.5 1773.6,1072.5 1776.1,1072.4 1778.6,1072.4 1781.1,1072.3 1783.6,1072.2 1786.1,1072.2 1788.6,1072.1 1791.1,1072.1 1793.6,1072.0 1796.1,1072.0 1798.6,1071.9 1801.1,1071.9 1803.6,1071.8 1806.2,1071.8 1808.7,1071.7 1811.2,1071.7 1813.7,1071.7 1816.2,1071.6 1818.7,1071.6 1821.2,1071.5 1823.7,1071.5 1826.2,1071.4 1828.7,1071.4 1831.2,1071.4 1833.7,1071.3 1836.2,1071.3 1838.7,1071.2 1841.2,1071.2 1843.7,1071.2 1846.2,1071.1 1848.7,1071.1 1851.3,1071.1 1853.8,1071.0 1856.3,1071.0 1858.8,1071.0 1861.3,1070.9 1863.8,1070.9 1866.3,1070.9 1868.8,1070.8 1871.3,1070.8 1873.8,1070.8 1876.3,1070.7 1878.8,1070.7 1881.3,1070.7 1883.8,1070.7 1886.3,1070.6 1888.8,1070.6 1891.3,1070.6 1893.9,1070.6 1896.4,1070.5 1898.9,1070.5 1901.4,1070.5 1903.9,1070.5 1906.4,1070.5 1908.9,1070.4 1911.4,1070.4 1913.9,1070.4 1916.4,1070.4 1918.9,1070.4 1921.4,1070.3 1923.9,1070.3 1926.4,1070.3 1928.9,1070.3 1931.5,1070.3 1934.0,1070.3 1936.5,1070.3 1939.0,1070.2 1941.5,1070.2 1944.0,1070.2 1946.5,1070.2 1949.0,1070.2"/>
<polyline class="c" stroke="#0000ff" points="1143.4,742.5 1143.6,745.1 1143.8,747.6 1144.0,750.1 1144.2,752.6 1144.4,755.2 1144.7,757.7 1144.9,760.2 1145.1,762.7 1145.3,765.2 1145.6,767.8 1145.8,770.3 1146.1,772.8 1146.3,775.3 1146.6,777.8 1146.8,780.3 1147.1,782.8 1147.4,785.3 1147.6,787.7 1147.9,790.2 1148.2,792.7 1148.5,795.2 1148.8,797.7 1149.1,800.2 1149.3,802.6 1149.6,805.1 1149.9,807.6 1150.3,810.1 1150.6,812.5 1150.9,815.0 1151.2,817.5 1151.5,820.0 1151.8,822.4 1152.2,824.9 1152.5,827.4 1152.8,829.8 1153.1,832.3 1153.5,834.8 1153.8,837.2 1154.2,839.7 1154.5,842.2 1154.8,844.6 1155.2,847.1 1155.5,849.6 1155.9,852.0 1156.2,854.5 1156.6,857.0 1156.9,859.4 1157.3,861.9 1157.6,864.4 1158.0,866.8 1158.3,869.3 1158.7,871.8 1159.1,874.3 1159.4,876.7 1159.8,879.2 1160.1,881.7 1160.5,884.2 1160.8,886.6 1161.2,889.1 1161.6,891.6 1161.9,894.1 1162.3,896.6 1162.6,899.1 1163.0,901.5 1163.4,904.0 1163.7,906.5 1164.1,909.0 1164.4,911.5 1164.8,914.0 1165.1,916.5 1165.5,919.0 1165.8,921.5 1166.2,924.0 1166.5,926.6 1166.9,929.1 1167.2,931.6 1167.6,934.1 1167.9,936.6 1168.3,939.1 1168.7,941.7 1169.0,944.2 1169.4,946.7 1169.8,949.2 1170.2,951.7 1170.7,954.2 1171.1,956.7 1171.6,959.2 1172.0,961.7 1172.5,964.1 1173.1,966.6 1173.6,969.1 1174.2,971.5 1174.8,974.0 1175.4,976.4 1176.1,978.8 1176.8,981.2 1177.5,983.6 1178.2,986.0 1179.0,988.3 1179.9,990.7 1180.7,993.0 1181.6,995.3 1182.6,997.6 1183.6,999.9 1184.6,1002.1 1185.7,1004.4 1186.9,1006.6 1188.1,1008.8 1189.3,1010.9 1190.6,1013.1 1192.0,1015.2 1193.4,1017.3 1194.8,1019.3 1196.3,1021.3 1197.9,1023.2 1199.5,1025.1 1201.2,1026.9 1203.0,1028.7 1204.8,1030.3 1206.6,1031.9 1208.6,1033.4 1210.5,1034.8 1212.6,1036.1 1214.7,1037.3 1216.9,1038.4 1219.1,1039.4 1221.3,1040.3 1223.7,1041.1 1226.0,1041.8 1228.4,1042.5 1230.9,1043.0 1233.3,1043.5 1235.8,1043.9 1238.4,1044.3 1240.9,1044.6 1243.4,1044.8 1246.0,1045.0 1248.5,1045.1 1251.1,1045.2 1253.7,1045.3 1256.2,1045.3 1258.8,1045.3 1261.4,1045.3 1263.9,1045.3 1266.5,1045.2 1269.0,1045.2 1271.6,1045.1 1274.1,1045.1 1276.6,1045.0 1279.2,1045.0 1281.7,1045.0 1284.2,1045.0 1286.7,1045.0 1289.2,1045.1 1291.7,1045.2 1294.2,1045.4 1296.7,1045.5 1299.1,1045.8 1301.6,1046.0 1304.0,1046.2 1306.5,1046.3 1309.0,1046.3 1311.5,1046.1 1313.9,1045.9 1316.4,1045.6 1318.9,1045.3 1321.4,1045.0 1323.9,1044.7 1326.4,1044.5 1328.9,1044.2 1331.4,1043.9 1333.8,1043.6 1336.3,1043.4 1338.8,1043.1 1341.3,1042.8 1343.8,1042.5 1346.3,1042.3 1348.8,1042.0 1351.3,1041.7 1353.8,1041.5 1356.2,1041.2 1358.7,1040.9 1361.2,1040.7 1363.7,1040.4 1366.2,1040.2 1368.7,1039.9 1371.2,1039.7 1373.7,1039.4 1376.2,1039.2 1378.7,1038.9 1381.2,1038.7 1383.7,1038.4 1386.1,1038.2 1388.6,1037.9 1391.1,1037.7 1393.6,1037.4 1396.1,1037.2 1398.6,1037.0 1401.1,1036.7 1403.6,1036.5 1406.1,1036.2 1408.6,1036.0 1411.1,1035.8 1413.6,1035.5 1416.1,1035.3 1418.6,1035.1 1421.0,1034.9 1423.5,1034.6 1426.0,1034.4 1428.5,1034.2 1431.0,1034.0 1433.5,1033.7 1436.0,1033.5 1438.5,1033.3 1441.0,1033.1 1443.5,1032.9 1446.0,1032.7 1448.5,1032.5 1451.0,1032.2 1453.5,1032.0 1456.0,1031.8 1458.5,1031.6 1461.0,1031.4 1463.5,1031.2 1466.0,1031.0 1468.5,1030.8 1471.0,1030.6 1473.5,1030.4 1475.9,1030.2 1478.4,1030.0 1480.9,1029.8 1483.4,1029.6 1485.9,1029.4 1488.4,1029.2 1490.9,1029.0 1493.4,1028.9 1495.9,1028.7 1498.4,1028.5 1500.9,1028.3 1503.4,1028.1 1505.9,1027.9 1508.4,1027.7 1510.9,1027.6 1513.4,1027.4 1515.9,1027.2 1518.4,1027.0 1520.9,1026.8 1523.4,1026.7 1525.9,1026.5 1528.4,1026.3 1530.9,1026.2 1533.4,1026.0 1535.9,1025.8 1538.4,1025.7 1540.9,1025.5 1543.4,1025.3 1545.9,1025.2 1548.4,1025.0 1550.9,1024.8 1553.4,1024.7 1555.9,1024.5 1558.4,1024.4 1560.9,1024.2 1563.4,1024.0 1565.9,1023.9 1568.4,1023.7 1570.9,1023.6 1573.4,1023.4 1575.9,1023.3 1578.4,1023.1 1580.9,1023.0 1583.4,1022.8 1585.9,1022.7 1588.4,1022.6 1590.9,1022.4 1593.4,1022.3 1595.9,1022.1 1598.4,1022.0 1600.9,1021.9 1603.4,1021.7 1605.9,1021.6 1608.4,1021.4 1610.9,1021.3 1613.4,1021.2 1615.9,1021.1 1618.4,1020.9 1620.9,1020.8 1623.4,1020.7 1625.9,1020.5 1628.4,1020.4 1630.9,1020.3 1633.4,1020.2 1635.9,1020.0 1638.4,1019.9 1640.9,1019.8 1643.4,1019.7 1646.0,1019.6 1648.5,1019.4 1651.0,1019.3 1653.5,1019.2 1656.0,1019.1 1658.5,1019.0 1661.0,1018.9 1663.5,1018.8 1666.0,1018.7 1668.5,1018.5 1671.0,1018.4 1673.5,1018.3 1676.0,1018.2 1678.5,1018.1 1681.0,1018.0 1683.5,1017.9 1686.0,1017.8 1688.5,1017.7 1691.0,1017.6 1693.5,1017.5 1696.0,1017.4 1698.5,1017.3 1701.0,1017.2 1703.5,1017.1 1706.0,1017.0 1708.5,1016.9 1711.0,1016.9 1713.5,1016.8 1716.0,1016.7 1718.6,1016.6 1721.1,1016.5 1723.6,1016.4 1726.1,1016.3 1728.6,1016.2 1731.1,1016.2 1733.6,1016.1 1736.1,1016.0 1738.6,1015.9 1741.1,1015.8 1743.6,1015.8 1746.1,1015.7 1748.6,1015.6 1751.1,1015.5 1753.6,1015.4 1756.1,1015.4 1758.6,1015.3 1761.1,1015.2 1763.6,1015.2 1766.1,1015.1 1768.6,1015.0 1771.1,1015.0 1773.7,1014.9 1776.2,1014.8 1778.7,1014.8 1781.2,1014.7 1783.7,1014.6 1786.2,1014.6 1788.7,1014.5 1791.2,1014.4 1793.7,1014.4 1796.2,1014.3 1798.7,1014.3 1801.2,1014.2 1803.7,1014.1 1806.2,1014.1 1808.7,1014.0 1811.2,1014.0 1813.7,1013.9 1816.2,1013.9 1818.7,1013.8 1821.2,1013.8 1823.8,1013.7 1826.3,1013.7 1828.8,1013.6 1831.3,1013.6 1833.8,1013.5 1836.3,1013.5 1838.8,1013.5 1841.3,1013.4 1843.8,1013.4 1846.3,1013.3 1848.8,1013.3 1851.3,1013.2 1853.8,1013.2 1856.3,1013.2 1858.8,1013.1 1861.3,1013.1 1863.8,1013.1 1866.3,1013.0 1868.8,1013.0 1871.4,1013.0 1873.9,1012.9 1876.4,1012.9 1878.9,1012.9 1881.4,1012.8 1883.9,1012.8 1886.4,1012.8 1888.9,1012.7 1891.4,1012.7 1893.9,1012.7 1896.4,1012.7 1898.9,1012.6 1901.4,1012.6 1903.9,1012.6 1906.4,1012.6 1908.9,1012.5 1911.4,1012.5 1913.9,1012.5 1916.4,1012.5 1918.9,1012.5 1921.4,1012.4 1924.0,1012.4 1926.5,1012.4 1929.0,1012.4 1931.5,1012.4 1934.0,1012.4 1936.5,1012.4 1939.0,1012.3 1941.5,1012.3 1944.0,1012.3 1946.5,1012.3 1949.0,1012.3"/>
<polyline class="c" stroke="#000000" points="1143.4,673.6 1143.7,676.1 1144.0,678.6 1144.3,681.1 1144.6,683.6 1144.9,686.1 1145.1,688.6 1145.4,691.1 1145.7,693.6 1145.9,696.1 1146.2,698.6 1146.5,701.1 1146.7,703.6 1147.0,706.1 1147.3,708.6 1147.5,711.1 1147.8,713.6 1148.0,716.1 1148.3,718.6 1148.6,721.1 1148.8,723.6 1149.1,726.1 1149.3,728.6 1149.6,731.1 1149.8,733.6 1150.1,736.1 1150.3,738.6 1150.6,741.1 1150.9,743.6 1151.1,746.1 1151.4,748.6 1151.6,751.1 1151.9,753.6 1152.2,756.1 1152.4,758.6 1152.7,761.1 1153.0,763.6 1153.2,766.1 1153.5,768.6 1153.8,771.1 1154.1,773.6 1154.4,776.1 1154.6,778.6 1154.9,781.1 1155.2,783.6 1155.5,786.1 1155.8,788.6 1156.1,791.1 1156.4,793.6 1156.7,796.1 1157.1,798.6 1157.4,801.0 1157.7,803.5 1158.0,806.0 1158.4,808.5 1158.7,811.0 1159.1,813.5 1159.4,816.0 1159.8,818.4 1160.1,820.9 1160.5,823.4 1160.9,825.9 1161.2,828.4 1161.6,830.9 1162.0,833.3 1162.4,835.8 1162.8,838.3 1163.2,840.8 1163.7,843.2 1164.1,845.7 1164.5,848.2 1165.0,850.7 1165.4,853.1 1165.9,855.6 1166.3,858.1 1166.8,860.5 1167.3,863.0 1167.8,865.5 1168.3,867.9 1168.8,870.4 1169.3,872.8 1169.9,875.3 1170.4,877.8 1170.9,880.2 1171.5,882.7 1172.1,885.1 1172.6,887.6 1173.2,890.0 1173.8,892.5 1174.4,894.9 1175.0,897.4 1175.7,899.8 1176.3,902.3 1177.0,904.7 1177.6,907.1 1178.3,909.6 1179.0,912.0 1179.7,914.4 1180.4,916.9 1181.1,919.3 1181.8,921.7 1182.6,924.2 1183.4,926.6 1184.1,929.0 1185.0,931.4 1185.8,933.8 1186.7,936.1 1187.6,938.4 1188.5,940.8 1189.6,943.0 1190.6,945.3 1191.7,947.5 1192.9,949.6 1194.1,951.7 1195.4,953.8 1196.8,955.8 1198.3,957.7 1199.8,959.6 1201.4,961.4 1203.1,963.2 1204.9,964.9 1206.8,966.5 1208.7,968.0 1210.7,969.5 1212.7,970.9 1214.8,972.3 1217.0,973.6 1219.2,974.8 1221.5,975.9 1223.8,977.0 1226.1,978.0 1228.5,979.0 1230.9,979.9 1233.3,980.7 1235.8,981.4 1238.2,982.1 1240.7,982.8 1243.2,983.4 1245.7,984.0 1248.2,984.5 1250.7,984.9 1253.3,985.4 1255.8,985.8 1258.3,986.2 1260.9,986.6 1263.4,986.9 1265.9,987.3 1268.4,987.6 1270.9,987.9 1273.4,988.3 1275.9,988.6 1278.3,988.9 1280.8,989.3 1283.2,989.6 1285.6,989.8 1288.0,989.9 1290.5,989.8 1292.9,989.6 1295.4,989.3 1297.9,988.9 1300.4,988.6 1302.8,988.2 1305.3,987.8 1307.8,987.5 1310.3,987.1 1312.7,986.7 1315.2,986.4 1317.7,986.0 1320.2,985.7 1322.6,985.3 1325.1,985.0 1327.6,984.6 1330.1,984.3 1332.5,983.9 1335.0,983.6 1337.5,983.3 1340.0,982.9 1342.5,982.6 1344.9,982.3 1347.4,981.9 1349.9,981.6 1352.4,981.3 1354.9,980.9 1357.3,980.6 1359.8,980.3 1362.3,980.0 1364.8,979.6 1367.3,979.3 1369.7,979.0 1372.2,978.7 1374.7,978.4 1377.2,978.1 1379.7,977.8 1382.1,977.5 1384.6,977.2 1387.1,976.9 1389.6,976.6 1392.1,976.3 1394.6,976.0 1397.0,975.7 1399.5,975.4 1402.0,975.1 1404.5,974.8 1407.0,974.5 1409.5,974.2 1412.0,973.9 1414.4,973.6 1416.9,973.4 1419.4,973.1 1421.9,972.8 1424.4,972.5 1426.9,972.3 1429.4,972.0 1431.8,971.7 1434.3,971.4 1436.8,971.2 1439.3,970.9 1441.8,970.6 1444.3,970.4 1446.8,970.1 1449.3,969.9 1451.7,969.6 1454.2,969.3 1456.7,969.1 1459.2,968.8 1461.7,968.6 1464.2,968.3 1466.7,968.1 1469.2,967.8 1471.7,967.6 1474.2,967.3 1476.6,967.1 1479.1,966.9 1481.6,966.6 1484.1,966.4 1486.6,966.2 1489.1,965.9 1491.6,965.7 1494.1,965.5 1496.6,965.2 1499.1,965.0 1501.6,964.8 1504.0,964.6 1506.5,964.3 1509.0,964.1 1511.5,963.9 1514.0,963.7 1516.5,963.5 1519.0,963.2 1521.5,963.0 1524.0,962.8 1526.5,962.6 1529.0,962.4 1531.5,962.2 1534.0,962.0 1536.5,961.8 1539.0,961.6 1541.5,961.4 1543.9,961.2 1546.4,961.0 1548.9,960.8 1551.4,960.6 1553.9,960.4 1556.4,960.2 1558.9,960.0 1561.4,959.8 1563.9,959.6 1566.4,959.4 1568.9,959.3 1571.4,959.1 1573.9,958.9 1576.4,958.7 1578.9,958.5 1581.4,958.3 1583.9,958.2 1586.4,958.0 1588.9,957.8 1591.4,957.6 1593.9,957.5 1596.4,957.3 1598.9,957.1 1601.4,957.0 1603.9,956.8 1606.4,956.6 1608.9,956.5 1611.4,956.3 1613.9,956.2 1616.4,956.0 1618.8,955.8 1621.3,955.7 1623.8,955.5 1626.3,955.4 1628.8,955.2 1631.3,955.1 1633.8,954.9 1636.3,954.8 1638.8,954.6 1641.3,954.5 1643.8,954.3 1646.3,954.2 1648.8,954.1 1651.3,953.9 1653.8,953.8 1656.3,953.6 1658.8,953.5 1661.3,953.4 1663.8,953.2 1666.3,953.1 1668.8,953.0 1671.3,952.8 1673.8,952.7 1676.3,952.6 1678.8,952.4 1681.3,952.3 1683.8,952.2 1686.3,952.1 1688.8,952.0 1691.3,951.8 1693.8,951.7 1696.3,951.6 1698.8,951.5 1701.3,951.4 1703.8,951.2 1706.3,951.1 1708.8,951.0 1711.4,950.9 1713.9,950.8 1716.4,950.7 1718.9,950.6 1721.4,950.5 1723.9,950.4 1726.4,950.3 1728.9,950.2 1731.4,950.1 1733.9,950.0 1736.4,949.9 1738.9,949.8 1741.4,949.7 1743.9,949.6 1746.4,949.5 1748.9,949.4 1751.4,949.3 1753.9,949.2 1756.4,949.1 1758.9,949.0 1761.4,948.9 1763.9,948.8 1766.4,948.7 1768.9,948.7 1771.4,948.6 1773.9,948.5 1776.4,948.4 1778.9,948.3 1781.4,948.2 1783.9,948.2 1786.4,948.1 1788.9,948.0 1791.4,947.9 1793.9,947.8 1796.4,947.8 1798.9,947.7 1801.4,947.6 1803.9,947.6 1806.4,947.5 1808.9,947.4 1811.4,947.3 1813.9,947.3 1816.4,947.2 1818.9,947.1 1821.4,947.1 1823.9,947.0 1826.4,947.0 1828.9,946.9 1831.4,946.8 1833.9,946.8 1836.4,946.7 1839.0,946.6 1841.5,946.6 1844.0,946.5 1846.5,946.5 1849.0,946.4 1851.5,946.4 1854.0,946.3 1856.5,946.3 1859.0,946.2 1861.5,946.2 1864.0,946.1 1866.5,946.1 1869.0,946.0 1871.5,946.0 1874.0,945.9 1876.5,945.9 1879.0,945.8 1881.5,945.8 1884.0,945.7 1886.5,945.7 1889.0,945.7 1891.5,945.6 1894.0,945.6 1896.5,945.5 1899.0,945.5 1901.5,945.5 1904.0,945.4 1906.5,945.4 1909.0,945.4 1911.5,945.3 1914.0,945.3 1916.5,945.3 1919.0,945.2 1921.5,945.2 1924.0,945.2 1926.5,945.1 1929.0,945.1 1931.5,945.1 1934.0,945.0 1936.5,945.0 1939.0,945.0 1941.5,945.0 1944.0,944.9 1946.5,944.9 1949.0,944.9"/>
</g>
<rect class="b" x="1141.4" y="653.3" width="849.6" height="496.3"/>
</g>
<g id="panel-E">
<line class="g" x1="302" y1="1264.6" x2="302" y2="1760.8"/>
<line class="g" x1="473.6" y1="1264.6" x2="473.6" y2="1760.8"/>
<line class="g" x1="642.7" y1="1264.6" x2="642.7" y2="1760.8"/>
<line class="g" x1="811.8" y1="1264.6" x2="811.8" y2="1760.8"/>
<line class="g" x1="132.1" y1="1388.9" x2="982" y2="1388.9"/>
<line class="g" x1="132.1" y1="1512.6" x2="982" y2="1512.6"/>
<line class="g" x1="132.1" y1="1636" x2="982" y2="1636"/>
<g clip-path="url(#clipE)">
<polyline class="c" stroke="#00a651" points="134.3,1603.4 134.8,1605.6 135.3,1607.9 135.8,1610.3 136.2,1612.6 136.6,1615.0 137.1,1617.5 137.5,1619.9 137.9,1622.4 138.3,1624.8 138.7,1627.3 139.1,1629.8 139.5,1632.4 139.9,1634.9 140.3,1637.4 140.7,1640.0 141.1,1642.5 141.6,1645.1 142.1,1647.6 142.6,1650.2 143.1,1652.7 143.6,1655.3 144.2,1657.8 144.8,1660.3 145.5,1662.8 146.2,1665.3 146.9,1667.8 147.7,1670.3 148.5,1672.7 149.3,1675.1 150.3,1677.5 151.2,1679.9 152.2,1682.2 153.3,1684.5 154.5,1686.8 155.7,1689.0 156.9,1691.1 158.2,1693.3 159.6,1695.3 161.0,1697.3 162.5,1699.3 164.0,1701.2 165.6,1703.0 167.3,1704.7 169.0,1706.4 170.8,1708.0 172.7,1709.5 174.6,1710.9 176.6,1712.2 178.7,1713.5 180.8,1714.7 182.9,1715.8 185.1,1716.8 187.4,1717.8 189.6,1718.7 192.0,1719.6 194.3,1720.3 196.7,1721.1 199.1,1721.7 201.6,1722.3 204.0,1722.8 206.5,1723.3 209.0,1723.8 211.5,1724.1 214.0,1724.5 216.5,1724.8 219.1,1725.0 221.6,1725.2 224.1,1725.4 226.6,1725.5 229.2,1725.6 231.7,1725.6 234.2,1725.7 236.7,1725.6 239.2,1725.6 241.7,1725.5 244.2,1725.5 246.8,1725.3 249.3,1725.2 251.8,1725.1 254.3,1724.9 256.8,1724.7 259.3,1724.6 261.8,1724.4 264.3,1724.2 266.8,1724.0 269.3,1723.7 271.8,1723.5 274.3,1723.3 276.8,1723.1 279.3,1722.9 281.8,1722.7 284.3,1722.5 286.8,1722.3 289.3,1722.1 291.8,1721.9 294.3,1721.7 296.8,1721.5 299.4,1721.4 301.9,1721.2 304.4,1721.0 306.9,1720.8 309.4,1720.6 311.9,1720.4 314.4,1720.2 316.9,1720.0 319.4,1719.9 321.9,1719.7 324.4,1719.5 326.9,1719.3 329.4,1719.1 331.9,1719.0 334.4,1718.8 336.9,1718.6 339.4,1718.4 341.9,1718.3 344.4,1718.1 346.9,1717.9 349.4,1717.8 351.9,1717.6 354.4,1717.4 356.9,1717.3 359.4,1717.1 361.9,1716.9 364.4,1716.8 366.9,1716.6 369.5,1716.5 372.0,1716.3 374.5,1716.2 377.0,1716.0 379.5,1715.8 382.0,1715.7 384.5,1715.5 387.0,1715.4 389.5,1715.2 392.0,1715.1 394.5,1715.0 397.0,1714.8 399.5,1714.7 402.0,1714.5 404.5,1714.4 407.0,1714.2 409.5,1714.1 412.0,1714.0 414.5,1713.8 417.0,1713.7 419.5,1713.5 422.0,1713.4 424.5,1713.3 427.0,1713.1 429.5,1713.0 432.0,1712.9 434.5,1712.8 437.0,1712.6 439.6,1712.5 442.1,1712.4 444.6,1712.2 447.1,1712.1 449.6,1712.0 452.1,1711.9 454.6,1711.8 457.1,1711.6 459.6,1711.5 462.1,1711.4 464.6,1711.3 467.1,1711.2 469.6,1711.0 472.1,1710.9 474.6,1710.8 477.1,1710.7 479.6,1710.6 482.1,1710.5 484.6,1710.4 487.1,1710.3 489.6,1710.2 492.1,1710.0 494.6,1709.9 497.1,1709.8 499.6,1709.7 502.1,1709.6 504.7,1709.5 507.2,1709.4 509.7,1709.3 512.2,1709.2 514.7,1709.1 517.2,1709.0 519.7,1708.9 522.2,1708.8 524.7,1708.7 527.2,1708.7 529.7,1708.6 532.2,1708.5 534.7,1708.4 537.2,1708.3 539.7,1708.2 542.2,1708.1 544.7,1708.0 547.2,1707.9 549.7,1707.8 552.2,1707.8 554.7,1707.7 557.2,1707.6 559.7,1707.5 562.2,1707.4 564.8,1707.3 567.3,1707.3 569.8,1707.2 572.3,1707.1 574.8,1707.0 577.3,1706.9 579.8,1706.9 582.3,1706.8 584.8,1706.7 587.3,1706.6 589.8,1706.6 592.3,1706.5 594.8,1706.4 597.3,1706.4 599.8,1706.3 602.3,1706.2 604.8,1706.1 607.3,1706.1 609.8,1706.0 612.3,1705.9 614.8,1705.9 617.3,1705.8 619.9,1705.7 622.4,1705.7 624.9,1705.6 627.4,1705.6 629.9,1705.5 632.4,1705.4 634.9,1705.4 637.4,1705.3 639.9,1705.3 642.4,1705.2 644.9,1705.1 647.4,1705.1 649.9,1705.0 652.4,1705.0 654.9,1704.9 657.4,1704.9 659.9,1704.8 662.4,1704.7 664.9,1704.7 667.4,1704.6 670.0,1704.6 672.5,1704.5 675.0,1704.5 677.5,1704.4 680.0,1704.4 682.5,1704.3 685.0,1704.3 687.5,1704.2 690.0,1704.2 692.5,1704.2 695.0,1704.1 697.5,1704.1 700.0,1704.0 702.5,1704.0 705.0,1703.9 707.5,1703.9 710.0,1703.8 712.5,1703.8 715.1,1703.8 717.6,1703.7 720.1,1703.7 722.6,1703.6 725.1,1703.6 727.6,1703.6 730.1,1703.5 732.6,1703.5 735.1,1703.5 737.6,1703.4 740.1,1703.4 742.6,1703.3 745.1,1703.3 747.6,1703.3 750.1,1703.2 752.6,1703.2 755.1,1703.2 757.7,1703.1 760.2,1703.1 762.7,1703.1 765.2,1703.0 767.7,1703.0 770.2,1703.0 772.7,1703.0 775.2,1702.9 777.7,1702.9 780.2,1702.9 782.7,1702.8 785.2,1702.8 787.7,1702.8 790.2,1702.8 792.7,1702.7 795.3,1702.7 797.8,1702.7 800.3,1702.7 802.8,1702.6 805.3,1702.6 807.8,1702.6 810.3,1702.6 812.8,1702.5 815.3,1702.5 817.8,1702.5 820.3,1702.5 822.8,1702.4 825.3,1702.4 827.8,1702.4 830.4,1702.4 832.9,1702.4 835.4,1702.3 837.9,1702.3 840.4,1702.3 842.9,1702.3 845.4,1702.3 847.9,1702.2 850.4,1702.2 852.9,1702.2 855.4,1702.2 857.9,1702.2 860.4,1702.1 862.9,1702.1 865.5,1702.1 868.0,1702.1 870.5,1702.1 873.0,1702.1 875.5,1702.0 878.0,1702.0 880.5,1702.0 883.0,1702.0 885.5,1702.0 888.0,1702.0 890.5,1701.9 893.0,1701.9 895.6,1701.9 898.1,1701.9 900.6,1701.9 903.1,1701.9 905.6,1701.9 908.1,1701.8 910.6,1701.8 913.1,1701.8 915.6,1701.8 918.1,1701.8 920.6,1701.8 923.1,1701.8 925.7,1701.8 928.2,1701.7 930.7,1701.7 933.2,1701.7 935.7,1701.7 938.2,1701.7"/>
<polyline class="c" stroke="#ed1c24" points="134.3,1573.1 134.8,1575.4 135.3,1577.7 135.8,1580.1 136.3,1582.4 136.8,1584.8 137.2,1587.3 137.7,1589.7 138.1,1592.2 138.5,1594.6 139.0,1597.1 139.4,1599.6 139.8,1602.1 140.3,1604.7 140.7,1607.2 141.2,1609.7 141.7,1612.2 142.2,1614.8 142.7,1617.3 143.3,1619.8 143.8,1622.4 144.4,1624.9 145.0,1627.4 145.7,1629.9 146.4,1632.4 147.2,1634.8 147.9,1637.3 148.8,1639.7 149.6,1642.1 150.6,1644.5 151.6,1646.9 152.6,1649.2 153.7,1651.5 154.8,1653.7 156.0,1655.9 157.3,1658.1 158.6,1660.2 160.0,1662.3 161.4,1664.3 162.9,1666.2 164.4,1668.1 166.1,1669.9 167.7,1671.6 169.5,1673.3 171.3,1674.9 173.2,1676.4 175.1,1677.8 177.1,1679.1 179.2,1680.4 181.3,1681.5 183.5,1682.7 185.7,1683.7 187.9,1684.7 190.2,1685.6 192.5,1686.4 194.9,1687.2 197.3,1687.9 199.7,1688.5 202.2,1689.1 204.6,1689.7 207.1,1690.1 209.6,1690.6 212.1,1691.0 214.6,1691.3 217.2,1691.6 219.7,1691.8 222.2,1692.1 224.7,1692.2 227.3,1692.4 229.8,1692.5 232.3,1692.5 234.8,1692.6 237.3,1692.6 239.8,1692.5 242.4,1692.5 244.9,1692.4 247.4,1692.3 249.9,1692.2 252.4,1692.1 254.9,1692.0 257.4,1691.8 259.9,1691.7 262.4,1691.5 264.9,1691.3 267.4,1691.1 269.9,1690.9 272.4,1690.8 274.9,1690.6 277.4,1690.4 279.9,1690.2 282.4,1690.0 284.9,1689.8 287.4,1689.7 289.9,1689.5 292.4,1689.3 294.9,1689.1 297.4,1688.9 299.9,1688.8 302.4,1688.6 304.9,1688.4 307.4,1688.2 309.9,1688.1 312.4,1687.9 314.9,1687.7 317.4,1687.5 319.9,1687.4 322.4,1687.2 324.9,1687.0 327.4,1686.9 329.9,1686.7 332.4,1686.5 334.9,1686.4 337.4,1686.2 339.9,1686.0 342.4,1685.9 344.9,1685.7 347.4,1685.5 349.9,1685.4 352.4,1685.2 354.9,1685.1 357.4,1684.9 359.9,1684.7 362.5,1684.6 365.0,1684.4 367.5,1684.3 370.0,1684.1 372.5,1683.9 375.0,1683.8 377.5,1683.6 380.0,1683.5 382.5,1683.3 385.0,1683.2 387.5,1683.0 390.0,1682.9 392.5,1682.7 395.0,1682.6 397.5,1682.4 400.0,1682.3 402.5,1682.1 405.0,1682.0 407.5,1681.8 410.0,1681.7 412.5,1681.5 415.0,1681.4 417.5,1681.2 420.0,1681.1 422.5,1681.0 425.0,1680.8 427.5,1680.7 430.0,1680.5 432.5,1680.4 435.0,1680.3 437.5,1680.1 440.0,1680.0 442.5,1679.8 445.0,1679.7 447.5,1679.6 450.0,1679.4 452.5,1679.3 455.0,1679.2 457.5,1679.0 460.0,1678.9 462.5,1678.8 465.0,1678.6 467.5,1678.5 470.0,1678.4 472.5,1678.3 475.0,1678.1 477.5,1678.0 480.0,1677.9 482.5,1677.7 485.0,1677.6 487.5,1677.5 490.0,1677.4 492.5,1677.3 495.0,1677.1 497.5,1677.0 500.0,1676.9 502.5,1676.8 505.0,1676.6 507.5,1676.5 510.0,1676.4 512.5,1676.3 515.0,1676.2 517.5,1676.1 520.0,1675.9 522.5,1675.8 525.0,1675.7 527.5,1675.6 530.0,1675.5 532.5,1675.4 535.0,1675.3 537.5,1675.2 540.0,1675.0 542.6,1674.9 545.1,1674.8 547.6,1674.7 550.1,1674.6 552.6,1674.5 555.1,1674.4 557.6,1674.3 560.1,1674.2 562.6,1674.1 565.1,1674.0 567.6,1673.9 570.1,1673.8 572.6,1673.7 575.1,1673.6 577.6,1673.5 580.1,1673.4 582.6,1673.3 585.1,1673.2 587.6,1673.1 590.1,1673.0 592.6,1672.9 595.1,1672.8 597.6,1672.7 600.1,1672.6 602.6,1672.5 605.1,1672.4 607.6,1672.3 610.1,1672.2 612.6,1672.1 615.1,1672.0 617.6,1672.0 620.1,1671.9 622.6,1671.8 625.1,1671.7 627.6,1671.6 630.1,1671.5 632.6,1671.4 635.1,1671.3 637.6,1671.3 640.1,1671.2 642.6,1671.1 645.1,1671.0 647.6,1670.9 650.1,1670.9 652.7,1670.8 655.2,1670.7 657.7,1670.6 660.2,1670.5 662.7,1670.5 665.2,1670.4 667.7,1670.3 670.2,1670.2 672.7,1670.2 675.2,1670.1 677.7,1670.0 680.2,1669.9 682.7,1669.9 685.2,1669.8 687.7,1669.7 690.2,1669.6 692.7,1669.6 695.2,1669.5 697.7,1669.4 700.2,1669.4 702.7,1669.3 705.2,1669.2 707.7,1669.2 710.2,1669.1 712.7,1669.0 715.2,1669.0 717.7,1668.9 720.2,1668.8 722.7,1668.8 725.2,1668.7 727.7,1668.7 730.3,1668.6 732.8,1668.5 735.3,1668.5 737.8,1668.4 740.3,1668.4 742.8,1668.3 745.3,1668.3 747.8,1668.2 750.3,1668.1 752.8,1668.1 755.3,1668.0 757.8,1668.0 760.3,1667.9 762.8,1667.9 765.3,1667.8 767.8,1667.8 770.3,1667.7 772.8,1667.7 775.3,1667.6 777.8,1667.6 780.3,1667.5 782.8,1667.5 785.3,1667.4 787.8,1667.4 790.4,1667.3 792.9,1667.3 795.4,1667.3 797.9,1667.2 800.4,1667.2 802.9,1667.1 805.4,1667.1 807.9,1667.1 810.4,1667.0 812.9,1667.0 815.4,1666.9 817.9,1666.9 820.4,1666.9 822.9,1666.8 825.4,1666.8 827.9,1666.8 830.4,1666.7 832.9,1666.7 835.4,1666.6 837.9,1666.6 840.5,1666.6 843.0,1666.6 845.5,1666.5 848.0,1666.5 850.5,1666.5 853.0,1666.4 855.5,1666.4 858.0,1666.4 860.5,1666.3 863.0,1666.3 865.5,1666.3 868.0,1666.3 870.5,1666.2 873.0,1666.2 875.5,1666.2 878.0,1666.2 880.5,1666.1 883.1,1666.1 885.6,1666.1 888.1,1666.1 890.6,1666.1 893.1,1666.0 895.6,1666.0 898.1,1666.0 900.6,1666.0 903.1,1666.0 905.6,1666.0 908.1,1665.9 910.6,1665.9 913.1,1665.9 915.6,1665.9 918.1,1665.9 920.7,1665.9 923.2,1665.9 925.7,1665.8 928.2,1665.8 930.7,1665.8 933.2,1665.8 935.7,1665.8 938.2,1665.8"/>
<polyline class="c" stroke="#0000ff" points="134.3,1537.5 134.8,1539.8 135.3,1542.2 135.7,1544.5 136.2,1546.9 136.6,1549.3 137.1,1551.8 137.5,1554.2 137.9,1556.7 138.3,1559.2 138.7,1561.7 139.1,1564.2 139.6,1566.7 140.0,1569.3 140.4,1571.8 140.9,1574.3 141.4,1576.8 141.9,1579.4 142.4,1581.9 143.0,1584.4 143.6,1586.9 144.2,1589.4 144.9,1591.9 145.6,1594.3 146.4,1596.8 147.2,1599.2 148.0,1601.6 148.9,1603.9 149.9,1606.3 150.9,1608.6 152.0,1610.9 153.1,1613.1 154.3,1615.3 155.6,1617.5 156.9,1619.6 158.3,1621.7 159.7,1623.7 161.2,1625.7 162.7,1627.6 164.3,1629.5 166.0,1631.4 167.7,1633.1 169.4,1634.8 171.2,1636.5 173.1,1638.0 175.0,1639.5 176.9,1641.0 179.0,1642.3 181.0,1643.6 183.1,1644.8 185.3,1645.9 187.4,1647.0 189.7,1648.0 192.0,1648.9 194.3,1649.7 196.6,1650.4 199.0,1651.1 201.4,1651.8 203.8,1652.3 206.3,1652.8 208.8,1653.3 211.3,1653.7 213.8,1654.0 216.4,1654.3 218.9,1654.5 221.5,1654.7 224.0,1654.9 226.6,1655.0 229.2,1655.1 231.8,1655.2 234.4,1655.2 236.9,1655.2 239.5,1655.1 242.1,1655.1 244.6,1655.0 247.2,1654.9 249.7,1654.8 252.3,1654.7 254.8,1654.5 257.3,1654.4 259.8,1654.2 262.3,1654.1 264.9,1653.9 267.4,1653.7 269.9,1653.6 272.4,1653.4 274.8,1653.3 277.3,1653.1 279.8,1653.0 282.3,1652.9 284.8,1652.8 287.2,1652.7 289.7,1652.7 292.2,1652.7 294.6,1652.6 297.1,1652.6 299.6,1652.6 302.0,1652.6 304.5,1652.4 307.0,1652.2 309.5,1652.0 312.0,1651.8 314.5,1651.5 317.0,1651.3 319.5,1651.0 322.0,1650.8 324.5,1650.5 327.0,1650.3 329.5,1650.0 332.0,1649.8 334.5,1649.6 337.0,1649.3 339.5,1649.1 342.0,1648.9 344.5,1648.6 347.0,1648.4 349.5,1648.2 352.0,1647.9 354.5,1647.7 356.9,1647.5 359.4,1647.3 361.9,1647.0 364.4,1646.8 366.9,1646.6 369.4,1646.4 371.9,1646.2 374.4,1646.0 376.9,1645.7 379.4,1645.5 381.9,1645.3 384.4,1645.1 386.9,1644.9 389.4,1644.7 391.9,1644.5 394.4,1644.3 396.9,1644.1 399.4,1643.9 401.9,1643.7 404.4,1643.5 406.9,1643.3 409.4,1643.1 411.9,1642.9 414.4,1642.7 416.9,1642.5 419.4,1642.3 421.9,1642.1 424.4,1641.9 426.9,1641.7 429.4,1641.5 431.9,1641.4 434.4,1641.2 436.9,1641.0 439.4,1640.8 441.9,1640.6 444.4,1640.4 446.9,1640.3 449.4,1640.1 452.0,1639.9 454.5,1639.7 457.0,1639.6 459.5,1639.4 462.0,1639.2 464.5,1639.1 467.0,1638.9 469.5,1638.7 472.0,1638.5 474.5,1638.4 477.0,1638.2 479.5,1638.1 482.0,1637.9 484.5,1637.7 487.0,1637.6 489.5,1637.4 492.0,1637.3 494.5,1637.1 497.0,1636.9 499.5,1636.8 502.0,1636.6 504.5,1636.5 507.0,1636.3 509.5,1636.2 512.0,1636.0 514.5,1635.9 517.0,1635.7 519.5,1635.6 522.0,1635.5 524.5,1635.3 527.0,1635.2 529.5,1635.0 532.1,1634.9 534.6,1634.8 537.1,1634.6 539.6,1634.5 542.1,1634.3 544.6,1634.2 547.1,1634.1 549.6,1633.9 552.1,1633.8 554.6,1633.7 557.1,1633.6 559.6,1633.4 562.1,1633.3 564.6,1633.2 567.1,1633.0 569.6,1632.9 572.1,1632.8 574.6,1632.7 577.1,1632.6 579.6,1632.4 582.2,1632.3 584.7,1632.2 587.2,1632.1 589.7,1632.0 592.2,1631.9 594.7,1631.7 597.2,1631.6 599.7,1631.5 602.2,1631.4 604.7,1631.3 607.2,1631.2 609.7,1631.1 612.2,1631.0 614.7,1630.9 617.2,1630.7 619.7,1630.6 622.2,1630.5 624.8,1630.4 627.3,1630.3 629.8,1630.2 632.3,1630.1 634.8,1630.0 637.3,1629.9 639.8,1629.8 642.3,1629.7 644.8,1629.6 647.3,1629.5 649.8,1629.4 652.3,1629.4 654.8,1629.3 657.3,1629.2 659.8,1629.1 662.4,1629.0 664.9,1628.9 667.4,1628.8 669.9,1628.7 672.4,1628.6 674.9,1628.5 677.4,1628.5 679.9,1628.4 682.4,1628.3 684.9,1628.2 687.4,1628.1 689.9,1628.0 692.4,1628.0 694.9,1627.9 697.5,1627.8 700.0,1627.7 702.5,1627.6 705.0,1627.6 707.5,1627.5 710.0,1627.4 712.5,1627.3 715.0,1627.3 717.5,1627.2 720.0,1627.1 722.5,1627.0 725.0,1627.0 727.5,1626.9 730.1,1626.8 732.6,1626.8 735.1,1626.7 737.6,1626.6 740.1,1626.6 742.6,1626.5 745.1,1626.4 747.6,1626.4 750.1,1626.3 752.6,1626.2 755.1,1626.2 757.6,1626.1 760.1,1626.0 762.7,1626.0 765.2,1625.9 767.7,1625.9 770.2,1625.8 772.7,1625.7 775.2,1625.7 777.7,1625.6 780.2,1625.6 782.7,1625.5 785.2,1625.5 787.7,1625.4 790.2,1625.3 792.7,1625.3 795.3,1625.2 797.8,1625.2 800.3,1625.1 802.8,1625.1 805.3,1625.0 807.8,1625.0 810.3,1624.9 812.8,1624.9 815.3,1624.8 817.8,1624.8 820.3,1624.7 822.8,1624.7 825.4,1624.6 827.9,1624.6 830.4,1624.6 832.9,1624.5 835.4,1624.5 837.9,1624.4 840.4,1624.4 842.9,1624.3 845.4,1624.3 847.9,1624.2 850.4,1624.2 852.9,1624.2 855.4,1624.1 858.0,1624.1 860.5,1624.0 863.0,1624.0 865.5,1624.0 868.0,1623.9 870.5,1623.9 873.0,1623.8 875.5,1623.8 878.0,1623.8 880.5,1623.7 883.0,1623.7 885.5,1623.7 888.1,1623.6 890.6,1623.6 893.1,1623.6 895.6,1623.5 898.1,1623.5 900.6,1623.5 903.1,1623.4 905.6,1623.4 908.1,1623.4 910.6,1623.3 913.1,1623.3 915.6,1623.3 918.1,1623.2 920.6,1623.2 923.2,1623.2 925.7,1623.1 928.2,1623.1 930.7,1623.1 933.2,1623.1 935.7,1623.0 938.2,1623.0"/>
<polyline class="c" stroke="#000000" points="134.3,1487.1 134.9,1489.5 135.5,1491.9 136.1,1494.3 136.6,1496.7 137.2,1499.1 137.7,1501.5 138.2,1504.0 138.7,1506.4 139.1,1508.9 139.6,1511.4 140.1,1513.8 140.5,1516.3 141.0,1518.8 141.4,1521.3 141.9,1523.7 142.4,1526.2 142.9,1528.7 143.4,1531.2 143.9,1533.6 144.5,1536.1 145.1,1538.6 145.7,1541.0 146.3,1543.5 147.0,1545.9 147.7,1548.3 148.5,1550.8 149.3,1553.2 150.1,1555.6 151.0,1558.0 152.0,1560.4 153.0,1562.7 154.0,1565.0 155.1,1567.3 156.3,1569.6 157.5,1571.9 158.7,1574.1 160.0,1576.2 161.3,1578.4 162.7,1580.5 164.2,1582.5 165.7,1584.5 167.3,1586.4 168.9,1588.3 170.5,1590.1 172.2,1591.8 174.0,1593.5 175.8,1595.1 177.7,1596.6 179.6,1598.1 181.6,1599.4 183.6,1600.7 185.7,1601.9 187.8,1603.1 190.0,1604.1 192.2,1605.1 194.5,1605.9 196.8,1606.8 199.2,1607.5 201.5,1608.2 204.0,1608.8 206.4,1609.3 208.9,1609.8 211.4,1610.3 213.9,1610.6 216.5,1611.0 219.0,1611.3 221.6,1611.5 224.2,1611.7 226.8,1611.9 229.4,1612.1 232.0,1612.2 234.6,1612.3 237.2,1612.3 239.8,1612.4 242.4,1612.4 245.0,1612.4 247.6,1612.4 250.1,1612.4 252.7,1612.4 255.2,1612.4 257.7,1612.4 260.2,1612.4 262.7,1612.4 265.2,1612.4 267.6,1612.4 270.1,1612.4 272.5,1612.5 274.9,1612.5 277.3,1612.6 279.7,1612.5 282.2,1612.4 284.6,1612.2 287.1,1611.9 289.6,1611.6 292.1,1611.3 294.6,1611.0 297.0,1610.7 299.5,1610.4 302.0,1610.2 304.5,1609.9 307.0,1609.6 309.5,1609.3 311.9,1609.0 314.4,1608.8 316.9,1608.5 319.4,1608.2 321.9,1607.9 324.4,1607.7 326.9,1607.4 329.3,1607.1 331.8,1606.8 334.3,1606.6 336.8,1606.3 339.3,1606.0 341.8,1605.8 344.3,1605.5 346.7,1605.2 349.2,1605.0 351.7,1604.7 354.2,1604.4 356.7,1604.2 359.2,1603.9 361.7,1603.7 364.1,1603.4 366.6,1603.1 369.1,1602.9 371.6,1602.6 374.1,1602.4 376.6,1602.1 379.1,1601.9 381.6,1601.6 384.0,1601.4 386.5,1601.1 389.0,1600.9 391.5,1600.6 394.0,1600.4 396.5,1600.2 399.0,1599.9 401.5,1599.7 404.0,1599.4 406.4,1599.2 408.9,1599.0 411.4,1598.7 413.9,1598.5 416.4,1598.3 418.9,1598.0 421.4,1597.8 423.9,1597.6 426.4,1597.3 428.8,1597.1 431.3,1596.9 433.8,1596.7 436.3,1596.4 438.8,1596.2 441.3,1596.0 443.8,1595.8 446.3,1595.5 448.8,1595.3 451.3,1595.1 453.7,1594.9 456.2,1594.7 458.7,1594.4 461.2,1594.2 463.7,1594.0 466.2,1593.8 468.7,1593.6 471.2,1593.4 473.7,1593.2 476.2,1593.0 478.7,1592.8 481.1,1592.6 483.6,1592.4 486.1,1592.2 488.6,1592.0 491.1,1591.8 493.6,1591.6 496.1,1591.4 498.6,1591.2 501.1,1591.0 503.6,1590.8 506.1,1590.6 508.6,1590.4 511.1,1590.2 513.6,1590.0 516.0,1589.8 518.5,1589.6 521.0,1589.4 523.5,1589.2 526.0,1589.1 528.5,1588.9 531.0,1588.7 533.5,1588.5 536.0,1588.3 538.5,1588.1 541.0,1588.0 543.5,1587.8 546.0,1587.6 548.5,1587.4 551.0,1587.3 553.5,1587.1 555.9,1586.9 558.4,1586.7 560.9,1586.6 563.4,1586.4 565.9,1586.2 568.4,1586.1 570.9,1585.9 573.4,1585.7 575.9,1585.6 578.4,1585.4 580.9,1585.2 583.4,1585.1 585.9,1584.9 588.4,1584.8 590.9,1584.6 593.4,1584.5 595.9,1584.3 598.4,1584.1 600.9,1584.0 603.4,1583.8 605.8,1583.7 608.3,1583.5 610.8,1583.4 613.3,1583.2 615.8,1583.1 618.3,1583.0 620.8,1582.8 623.3,1582.7 625.8,1582.5 628.3,1582.4 630.8,1582.2 633.3,1582.1 635.8,1582.0 638.3,1581.8 640.8,1581.7 643.3,1581.6 645.8,1581.4 648.3,1581.3 650.8,1581.2 653.3,1581.0 655.8,1580.9 658.3,1580.8 660.8,1580.7 663.3,1580.5 665.8,1580.4 668.3,1580.3 670.8,1580.2 673.3,1580.0 675.8,1579.9 678.3,1579.8 680.8,1579.7 683.3,1579.6 685.7,1579.5 688.2,1579.3 690.7,1579.2 693.2,1579.1 695.7,1579.0 698.2,1578.9 700.7,1578.8 703.2,1578.7 705.7,1578.6 708.2,1578.5 710.7,1578.4 713.2,1578.3 715.7,1578.1 718.2,1578.0 720.7,1577.9 723.2,1577.8 725.7,1577.8 728.2,1577.7 730.7,1577.6 733.2,1577.5 735.7,1577.4 738.2,1577.3 740.7,1577.2 743.2,1577.1 745.7,1577.0 748.2,1576.9 750.7,1576.8 753.2,1576.7 755.7,1576.7 758.2,1576.6 760.7,1576.5 763.2,1576.4 765.7,1576.3 768.2,1576.3 770.7,1576.2 773.2,1576.1 775.7,1576.0 778.2,1575.9 780.7,1575.9 783.2,1575.8 785.7,1575.7 788.2,1575.7 790.7,1575.6 793.2,1575.5 795.7,1575.4 798.2,1575.4 800.7,1575.3 803.2,1575.3 805.7,1575.2 808.2,1575.1 810.7,1575.1 813.2,1575.0 815.7,1574.9 818.2,1574.9 820.7,1574.8 823.2,1574.8 825.7,1574.7 828.2,1574.7 830.7,1574.6 833.2,1574.6 835.7,1574.5 838.2,1574.5 840.7,1574.4 843.2,1574.4 845.7,1574.3 848.2,1574.3 850.7,1574.2 853.2,1574.2 855.7,1574.2 858.2,1574.1 860.7,1574.1 863.2,1574.0 865.7,1574.0 868.2,1574.0 870.7,1573.9 873.2,1573.9 875.7,1573.9 878.2,1573.8 880.7,1573.8 883.2,1573.8 885.7,1573.7 888.2,1573.7 890.7,1573.7 893.2,1573.7 895.7,1573.6 898.2,1573.6 900.7,1573.6 903.2,1573.6 905.7,1573.6 908.2,1573.5 910.7,1573.5 913.2,1573.5 915.7,1573.5 918.2,1573.5 920.7,1573.5 923.2,1573.5 925.7,1573.4 928.2,1573.4 930.7,1573.4 933.2,1573.4 935.7,1573.4 938.2,1573.4"/>
</g>
<rect class="b" x="132.1" y="1264.6" width="849.9" height="496.2"/>
</g>
<g id="labels">
<text transform="matrix(1.0079,0,0,1.0071,102.41,51.88)">0</text>
<text transform="matrix(1.0568,0,0,1.0036,86.38,150)">-2</text>
<text transform="matrix(1.0506,0,0,1.0136,86.49,248.6)">-4</text>
<text transform="matrix(1.0742,0,0,1.0027,86.35,346.18)">-6</text>
<text transform="matrix(1.0742,0,0,1.0071,86.35,448.08)">-8</text>
<text transform="matrix(1.0390,0,0,1.0027,69.4,547.28)">-10</text>
<text transform="matrix(1.0275,0,0,0.9982,1097.58,51.18)">0</text>
<text transform="matrix(1.0229,0,0,0.9982,1068.53,135.18)">-10</text>
<text transform="matrix(1.0436,0,0,1.0115,1068.1,214.08)">-20</text>
<text transform="matrix(1.0436,0,0,1.0203,1068.1,301.27)">-30</text>
<text transform="matrix(1.0436,0,0,0.9982,1068.1,378.18)">-40</text>
<text transform="matrix(1.0436,0,0,1.0115,1068.1,461.08)">-50</text>
<text transform="matrix(1.0436,0,0,1.0247,1068.1,548.17)">-60</text>
<text transform="matrix(1.0602,0,0,0.9982,101.74,667.98)">0</text>
<text transform="matrix(1.0046,0,0,0.9806,60.95,790.99)">-0.1</text>
<text transform="matrix(1.0023,0,0,0.9894,61.06,911.68)">-0.2</text>
<text transform="matrix(0.9977,0,0,1.0071,61.06,1034.28)">-0.3</text>
<text transform="matrix(1.0019,0,0,0.9850,61.06,1158.98)">-0.4</text>
<text transform="matrix(1.0668,0,0,1.0071,1097.43,663.98)">0</text>
<text transform="matrix(1.0157,0,0,0.9894,1059.74,826.98)">-0.2</text>
<text transform="matrix(1.0133,0,0,0.9850,1059.74,997.28)">-0.4</text>
<text transform="matrix(1.0130,0,0,1.0027,1059.74,1153.68)">-0.6</text>
<text transform="matrix(1.0668,0,0,1.0071,101.53,1273.08)">0</text>
<text transform="matrix(1.0177,0,0,0.9894,60.53,1397.88)">-0.2</text>
<text transform="matrix(1.0019,0,0,0.9894,61.06,1518.98)">-0.4</text>
<text transform="matrix(1.0111,0,0,1.0071,61.04,1649.68)">-0.6</text>
<text transform="matrix(1.0245,0,0,1.0027,60.82,1767.78)">-0.8</text>
<text transform="matrix(1.0209,0,0,1.0292,1130.89,1193.67)">0</text>
<text transform="matrix(0.9890,0,0,1.0215,1304.02,1193.7)">2</text>
<text transform="matrix(0.9592,0,0,1.0273,1472.31,1193.7)">4</text>
<text transform="matrix(1.0000,0,0,1.0292,1644.4,1193.67)">6</text>
<text transform="matrix(1.0239,0,0,1.0380,1814.21,1193.67)">8</text>
<text transform="matrix(1.0119,0,0,1.0292,1972.67,1193.67)">10</text>
<text transform="matrix(1.0209,0,0,1.0071,121.89,1801.18)">0</text>
<text transform="matrix(0.9341,0,0,0.9991,290.81,1801.2)">2</text>
<text transform="matrix(0.9777,0,0,1.0045,461.9,1801.2)">4</text>
<text transform="matrix(1.0405,0,0,1.0071,629.14,1801.18)">6</text>
<text transform="matrix(1.0439,0,0,1.0071,804.38,1801.18)">8</text>
<text transform="matrix(1.0119,0,0,1.0071,962.47,1801.18)">10</text>
<text transform="matrix(1.0012,0,0,1.0027,853,1958.98)">1250</text>
<text transform="matrix(0.9997,0,0,1.0071,1060.4,1955.78)">2500</text>
<text transform="matrix(0.9866,0,0,1.0071,1268.12,1955.78)">3750</text>
<text transform="matrix(0.9936,0,0,1.0071,1478.33,1955.78)">5000</text>
<text transform="matrix(0.9104,0,0,0.9727,952.63,30.7)">A</text>
<text transform="matrix(0.8333,0,0,0.9864,1968,32.8)">B</text>
<text transform="matrix(0.8053,0,0,1.0203,952.61,636.97)">C</text>
<text transform="matrix(0.8966,0,0,0.9773,1966.73,631.7)">D</text>
<text transform="matrix(0.7085,0,0,0.9864,957.53,1254.9)">E</text>
<text transform="matrix(1.0230,0,0,1,865.1,81)">siderite</text>
<text transform="matrix(1.0020,0,0,1,1830.44,79.2)">chamosite</text>
<text transform="matrix(1.0139,0,0,1,847.61,690.9)">smectite</text>
<text transform="matrix(1.0371,0,0,1,1889.89,701)">albite</text>
<text transform="matrix(0.9898,0,0,1,840.95,1303.9)">analcime</text>
<text transform="matrix(0.9973,0,0,1,382.57,1859.2)">Distance from basalt (m)</text>
<text transform="matrix(0.9956,0,0,1,1392.57,1251.5)">Distance from basalt (m)</text>
<text transform="matrix(0.9983,0,0,1,471.32,1955.7)">years of simulation</text>
<text style="font-size:37px" transform="matrix(0,-0.7897,1.0620,0,34.31,303.21)">S</text>
<text style="font-size:37px" transform="matrix(0,-1.1687,1.0536,0,33.9,284.9)">I</text>
<text style="font-size:37px" transform="matrix(0,-0.7897,1.0620,0,37.21,917.41)">S</text>
<text style="font-size:37px" transform="matrix(0,-1.1687,1.0536,0,36.8,899.1)">I</text>
<text style="font-size:37px" transform="matrix(0,-0.7897,1.0620,0,36.61,1528.21)">S</text>
<text style="font-size:37px" transform="matrix(0,-1.1687,1.0536,0,36.2,1509.9)">I</text>
</g>
<g id="legend">
<line class="l" stroke="#00a651" x1="762.7" y1="1947" x2="824.9" y2="1947"/>
<line class="l" stroke="#ed1c24" x1="965.3" y1="1947" x2="1027.6" y2="1947"/>
<line class="l" stroke="#0000ff" x1="1178.1" y1="1947" x2="1240.7" y2="1947"/>
<line class="l" stroke="#000000" x1="1385.2" y1="1947" x2="1447.8" y2="1947"/>
</g>
</svg>
</body>
</html>
